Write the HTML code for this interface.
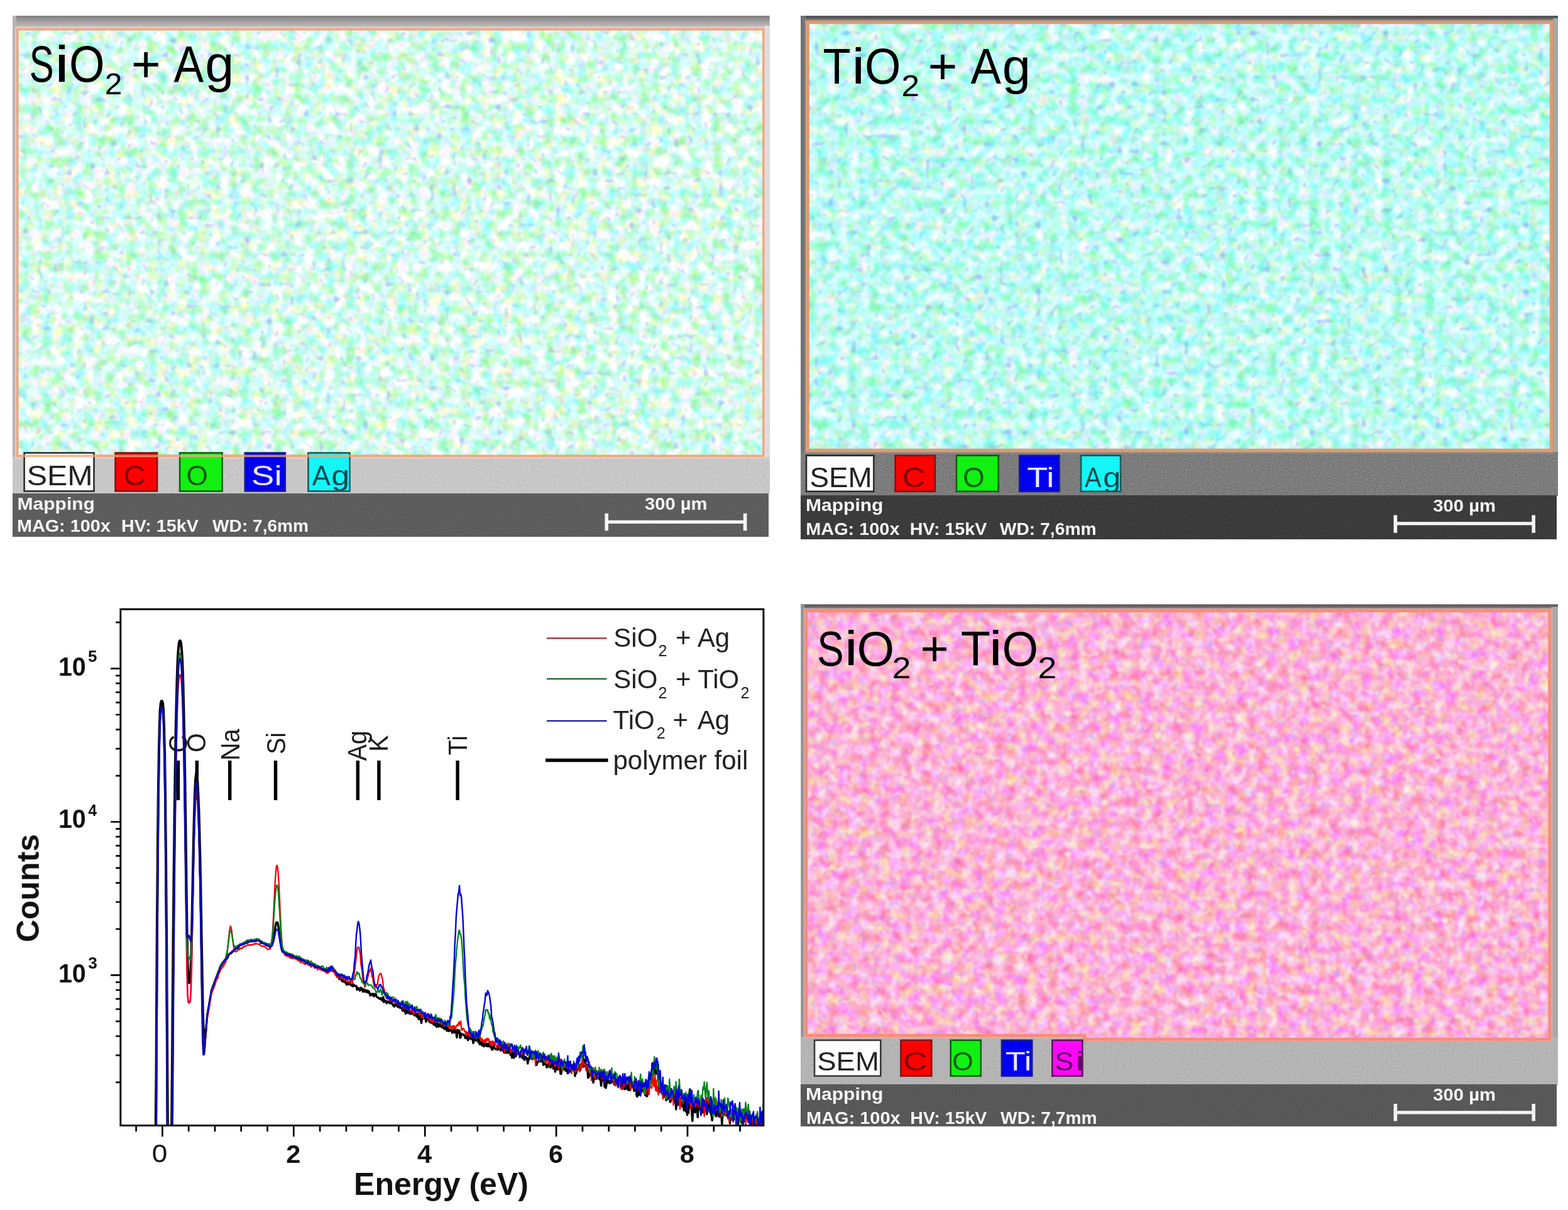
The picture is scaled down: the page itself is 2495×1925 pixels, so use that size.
<!DOCTYPE html>
<html lang="en"><head><meta charset="utf-8"><title>EDX mapping and spectra</title>
<style>html,body{margin:0;padding:0;background:#fff;}body{width:2495px;height:1925px;overflow:hidden;}svg text{font-family:"Liberation Sans",sans-serif;}</style></head>
<body>
<svg xmlns="http://www.w3.org/2000/svg" width="2495" height="1925" viewBox="0 0 2495 1925" font-family='"Liberation Sans", sans-serif' style="display:block">
<defs>
<filter id="map1" x="0" y="0" width="100%" height="100%" filterUnits="objectBoundingBox" color-interpolation-filters="sRGB"><feTurbulence type="fractalNoise" baseFrequency="0.06" numOctaves="2" seed="3"/><feColorMatrix type="matrix" values="0.85 0 0 0 0.4103  0 0.14 0 0 0.9182  0.38 0 0.7 0 0.3933  0 0 0 0 1" result="base"/><feTurbulence type="fractalNoise" baseFrequency="0.085" numOctaves="1" seed="34"/><feColorMatrix type="matrix" values="0 0 0 0 0.596  0 0 0 0 0.706  0 0 0 0 0.965  3.4 0 0 0 -2.108" result="s0"/><feComposite in="s0" in2="base" operator="over" result="c0"/><feTurbulence type="fractalNoise" baseFrequency="0.09" numOctaves="1" seed="35"/><feColorMatrix type="matrix" values="0 0 0 0 1.000  0 0 0 0 0.769  0 0 0 0 0.863  0 3.4 0 0 -2.244" result="s1"/><feComposite in="s1" in2="c0" operator="over" result="c1"/></filter>
<filter id="gr1" x="0" y="0" width="100%" height="100%" filterUnits="objectBoundingBox" color-interpolation-filters="sRGB"><feTurbulence type="fractalNoise" baseFrequency="0.4" numOctaves="2" seed="10"/><feColorMatrix type="matrix" values="0.13 0 0 0 0.7154  0.13 0 0 0 0.7154  0.13 0 0 0 0.7154  0 0 0 0 1" result="base"/></filter>
<filter id="dk1" x="0" y="0" width="100%" height="100%" filterUnits="objectBoundingBox" color-interpolation-filters="sRGB"><feTurbulence type="fractalNoise" baseFrequency="0.4" numOctaves="2" seed="14"/><feColorMatrix type="matrix" values="0.06 0 0 0 0.3347  0.06 0 0 0 0.3347  0.06 0 0 0 0.3347  0 0 0 0 1" result="base"/></filter>
<linearGradient id="tg1" x1="0" y1="0" x2="0" y2="1"><stop offset="0" stop-color="#808080"/><stop offset="1" stop-color="#cbc4c4"/></linearGradient>
<filter id="map2" x="0" y="0" width="100%" height="100%" filterUnits="objectBoundingBox" color-interpolation-filters="sRGB"><feTurbulence type="fractalNoise" baseFrequency="0.06" numOctaves="2" seed="11"/><feColorMatrix type="matrix" values="0.8 0 0 0 0.3451  0 0.16 0 0 0.9043  0.3 0 0.55 0 0.524  0 0 0 0 1" result="base"/><feTurbulence type="fractalNoise" baseFrequency="0.085" numOctaves="1" seed="42"/><feColorMatrix type="matrix" values="0 0 0 0 0.565  0 0 0 0 0.690  0 0 0 0 0.957  3.4 0 0 0 -2.091" result="s0"/><feComposite in="s0" in2="base" operator="over" result="c0"/><feTurbulence type="fractalNoise" baseFrequency="0.09" numOctaves="1" seed="43"/><feColorMatrix type="matrix" values="0 0 0 0 0.957  0 0 0 0 0.816  0 0 0 0 0.894  0 3.4 0 0 -2.312" result="s1"/><feComposite in="s1" in2="c0" operator="over" result="c1"/></filter>
<filter id="gr2" x="0" y="0" width="100%" height="100%" filterUnits="objectBoundingBox" color-interpolation-filters="sRGB"><feTurbulence type="fractalNoise" baseFrequency="0.4" numOctaves="2" seed="18"/><feColorMatrix type="matrix" values="0.2 0 0 0 0.3863  0.2 0 0 0 0.3863  0.2 0 0 0 0.3863  0 0 0 0 1" result="base"/></filter>
<filter id="dk2" x="0" y="0" width="100%" height="100%" filterUnits="objectBoundingBox" color-interpolation-filters="sRGB"><feTurbulence type="fractalNoise" baseFrequency="0.4" numOctaves="2" seed="22"/><feColorMatrix type="matrix" values="0.08 0 0 0 0.1914  0.08 0 0 0 0.1914  0.08 0 0 0 0.1914  0 0 0 0 1" result="base"/></filter>
<linearGradient id="tg2" x1="0" y1="0" x2="0" y2="1"><stop offset="0" stop-color="#4d4d4d"/><stop offset="1" stop-color="#6f6f6f"/></linearGradient>
<filter id="map3" x="0" y="0" width="100%" height="100%" filterUnits="objectBoundingBox" color-interpolation-filters="sRGB"><feTurbulence type="fractalNoise" baseFrequency="0.06" numOctaves="2" seed="23"/><feColorMatrix type="matrix" values="0.1 0 0 0 0.9382  0 0.62 0 0 0.3802  0 0 0.62 0 0.5253  0 0 0 0 1" result="base"/><feTurbulence type="fractalNoise" baseFrequency="0.09" numOctaves="1" seed="54"/><feColorMatrix type="matrix" values="0 0 0 0 0.753  0 0 0 0 0.659  0 0 0 0 0.980  3.2 0 0 0 -2.032" result="s0"/><feComposite in="s0" in2="base" operator="over" result="c0"/><feTurbulence type="fractalNoise" baseFrequency="0.085" numOctaves="1" seed="55"/><feColorMatrix type="matrix" values="0 0 0 0 1.000  0 0 0 0 0.949  0 0 0 0 0.863  0 3.2 0 0 -1.888" result="s1"/><feComposite in="s1" in2="c0" operator="over" result="c1"/></filter>
<filter id="gr3" x="0" y="0" width="100%" height="100%" filterUnits="objectBoundingBox" color-interpolation-filters="sRGB"><feTurbulence type="fractalNoise" baseFrequency="0.4" numOctaves="2" seed="30"/><feColorMatrix type="matrix" values="0.13 0 0 0 0.6409  0.13 0 0 0 0.6409  0.13 0 0 0 0.6409  0 0 0 0 1" result="base"/></filter>
<filter id="dk3" x="0" y="0" width="100%" height="100%" filterUnits="objectBoundingBox" color-interpolation-filters="sRGB"><feTurbulence type="fractalNoise" baseFrequency="0.4" numOctaves="2" seed="34"/><feColorMatrix type="matrix" values="0.06 0 0 0 0.3151  0.06 0 0 0 0.3151  0.06 0 0 0 0.3151  0 0 0 0 1" result="base"/></filter>
<linearGradient id="tg3" x1="0" y1="0" x2="0" y2="1"><stop offset="0" stop-color="#565656"/><stop offset="1" stop-color="#8a7a7a"/></linearGradient>
<filter id="soft" x="-2%" y="-2%" width="104%" height="104%" color-interpolation-filters="sRGB"><feGaussianBlur stdDeviation="0.75"/></filter>
</defs>
<rect x="0.00" y="0.00" width="2495.00" height="1925.00" fill="#ffffff" />
<g id="panel1" filter="url(#soft)">
<rect x="20.00" y="25.00" width="1204.50" height="760.00" fill="#c3c3c3" filter="url(#gr1)"/>
<rect x="20.00" y="25.00" width="1204.50" height="19.80" fill="url(#tg1)" />
<rect x="20.00" y="25.00" width="6.00" height="702.20" fill="#b6b2b4" />
<rect x="1216.60" y="40.80" width="7.90" height="686.40" fill="#dcdce2" />
<rect x="20.00" y="785.00" width="1202.50" height="68.20" fill="#5b5b5b" filter="url(#dk1)"/>
<rect x="24.80" y="43.60" width="1193.00" height="684.80" fill="none" stroke="#f3d8cc" stroke-width="2.4" opacity="0.6"/>
<clipPath id="mc1"><path d="M26 44.8H1216.6V727.2H26Z"/></clipPath>
<g clip-path="url(#mc1)"><rect x="26.00" y="44.80" width="1190.60" height="682.40" fill="#cbf7e4" filter="url(#map1)"/></g>
<path d="M27.8 46.599999999999994H1214.8V725.4000000000001H27.8Z" fill="none" stroke="#f0a582" stroke-width="3.6"/>
<rect x="38.60" y="720.50" width="110.90" height="60.90" fill="#ffffff" stroke="#2c2c2c" stroke-width="2.6"/>
<clipPath id="lc1SEM"><rect x="38.30" y="719.2" width="111.30" height="62.00"/></clipPath>
<g clip-path="url(#lc1SEM)"><text transform="translate(42.82 771.80) scale(1.1097 1)" font-size="43.6" fill="#222222" font-weight="normal" >SEM</text></g>
<rect x="183.50" y="720.50" width="66.60" height="60.90" fill="#ff0000" stroke="#7c1616" stroke-width="2.6"/>
<clipPath id="lc1C"><rect x="183.20" y="719.2" width="67.00" height="62.00"/></clipPath>
<g clip-path="url(#lc1C)"><text transform="translate(196.32 771.80) scale(1.1378 1)" font-size="43.6" fill="#7a0000" font-weight="normal" >C</text></g>
<rect x="286.10" y="720.50" width="67.50" height="60.90" fill="#12f012" stroke="#0d5f0d" stroke-width="2.6"/>
<clipPath id="lc1O"><rect x="285.80" y="719.2" width="67.90" height="62.00"/></clipPath>
<g clip-path="url(#lc1O)"><text transform="translate(296.51 771.80) scale(1.0145 1)" font-size="43.6" fill="#0b5a0b" font-weight="normal" >O</text></g>
<rect x="389.80" y="720.50" width="64.00" height="60.90" fill="#0000f2" stroke="#1c1c8c" stroke-width="2.6"/>
<clipPath id="lc1Si"><rect x="389.50" y="719.2" width="64.40" height="62.00"/></clipPath>
<g clip-path="url(#lc1Si)"><text transform="translate(399.83 771.80) scale(1.2578 1)" font-size="43.6" fill="#e8e8ff" font-weight="normal" >Si</text></g>
<rect x="490.50" y="720.50" width="66.00" height="60.90" fill="#14f6f6" stroke="#125c5c" stroke-width="2.6"/>
<clipPath id="lc1Ag"><rect x="490.20" y="719.2" width="66.40" height="62.00"/></clipPath>
<g clip-path="url(#lc1Ag)"><text fill="#0c4a55" font-weight="normal" ><tspan x="496.70" y="771.80" font-size="43.6" textLength="29.09" lengthAdjust="spacingAndGlyphs">A</tspan><tspan x="527.21" y="771.80" font-size="43.6" textLength="29.04" lengthAdjust="spacingAndGlyphs">g</tspan></text></g>
<path d="M26 725.40H559.8" stroke="#f0a582" stroke-width="3.6" fill="none" opacity="0.8"/>
<text transform="translate(27.55 810.60) scale(1.1120 1)" font-size="27" fill="#f6f6f6" font-weight="bold" >Mapping</text>
<text transform="translate(26.93 846.40) scale(1.0671 1)" font-size="27" fill="#f6f6f6" font-weight="bold" >MAG: 100x</text>
<text transform="translate(193.03 846.40) scale(1.0627 1)" font-size="27" fill="#f6f6f6" font-weight="bold" >HV: 15kV</text>
<text transform="translate(338.10 846.40) scale(1.0406 1)" font-size="27" fill="#f6f6f6" font-weight="bold" >WD: 7,6mm</text>
<text transform="translate(1026.07 810.60) scale(1.0777 1)" font-size="27" fill="#f6f6f6" font-weight="bold" >300 µm</text>
<path d="M965.2 816.8V844.2M1185.6 816.8V844.2" stroke="#f4f4f4" stroke-width="5.6" fill="none"/>
<path d="M965.2 830.4H1185.6" stroke="#f4f4f4" stroke-width="5.2" fill="none"/>
<text fill="#000" font-weight="normal" ><tspan x="46.68" y="130.30" font-size="81" textLength="38.86" lengthAdjust="spacingAndGlyphs">S</tspan><tspan x="86.98" y="130.30" font-size="81" textLength="22.96" lengthAdjust="spacingAndGlyphs">i</tspan><tspan x="109.93" y="130.30" font-size="81" textLength="56.55" lengthAdjust="spacingAndGlyphs">O</tspan><tspan x="166.72" y="149.60" font-size="49" textLength="27.63" lengthAdjust="spacingAndGlyphs">2</tspan> <tspan x="208.79" y="130.30" font-size="81" textLength="46.84" lengthAdjust="spacingAndGlyphs">+</tspan> <tspan x="276.60" y="130.30" font-size="81" textLength="47.64" lengthAdjust="spacingAndGlyphs">A</tspan><tspan x="326.28" y="130.30" font-size="81" textLength="46.10" lengthAdjust="spacingAndGlyphs">g</tspan></text>
</g>
<g id="panel2" filter="url(#soft)">
<rect x="1274.80" y="25.30" width="1204.00" height="763.30" fill="#7d7d7d" filter="url(#gr2)"/>
<rect x="1274.80" y="25.30" width="1204.00" height="7.70" fill="url(#tg2)" />
<rect x="1274.80" y="25.30" width="7.80" height="693.70" fill="#6e7474" />
<rect x="2471.00" y="29.00" width="7.80" height="690.00" fill="#a2aaaa" />
<rect x="1274.80" y="788.60" width="1201.70" height="69.40" fill="#3b3b3b" filter="url(#dk2)"/>
<rect x="1281.40" y="31.80" width="1190.80" height="688.40" fill="none" stroke="#b09888" stroke-width="2.4" opacity="0.6"/>
<clipPath id="mc2"><path d="M1282.6 33H2471V719H1282.6Z"/></clipPath>
<g clip-path="url(#mc2)"><rect x="1282.60" y="33.00" width="1188.40" height="686.00" fill="#aff4e6" filter="url(#map2)"/></g>
<path d="M1285.1999999999998 35.6H2468.4V716.4H1285.1999999999998Z" fill="none" stroke="#e09a72" stroke-width="5.2"/>
<rect x="1283.00" y="724.70" width="107.30" height="57.10" fill="#ffffff" stroke="#2c2c2c" stroke-width="2.6"/>
<clipPath id="lc2SEM"><rect x="1282.70" y="723.4" width="107.70" height="58.20"/></clipPath>
<g clip-path="url(#lc2SEM)"><text transform="translate(1288.54 774.90) scale(1.0501 1)" font-size="43.6" fill="#222222" font-weight="normal" >SEM</text></g>
<rect x="1424.50" y="724.70" width="63.30" height="57.10" fill="#ff0000" stroke="#7c1616" stroke-width="2.6"/>
<clipPath id="lc2C"><rect x="1424.20" y="723.4" width="63.70" height="58.20"/></clipPath>
<g clip-path="url(#lc2C)"><text transform="translate(1435.76 774.90) scale(1.1630 1)" font-size="43.6" fill="#7a0000" font-weight="normal" >C</text></g>
<rect x="1521.90" y="724.70" width="66.80" height="57.10" fill="#12f012" stroke="#0d5f0d" stroke-width="2.6"/>
<clipPath id="lc2O"><rect x="1521.60" y="723.4" width="67.20" height="58.20"/></clipPath>
<g clip-path="url(#lc2O)"><text transform="translate(1532.31 774.90) scale(1.0145 1)" font-size="43.6" fill="#0b5a0b" font-weight="normal" >O</text></g>
<rect x="1622.20" y="724.70" width="63.30" height="57.10" fill="#0000f2" stroke="#1c1c8c" stroke-width="2.6"/>
<clipPath id="lc2Ti"><rect x="1621.90" y="723.4" width="63.70" height="58.20"/></clipPath>
<g clip-path="url(#lc2Ti)"><text transform="translate(1634.22 774.90) scale(1.2437 1)" font-size="43.6" fill="#e8e8ff" font-weight="normal" >Ti</text></g>
<rect x="1720.10" y="724.70" width="63.00" height="57.10" fill="#14f6f6" stroke="#125c5c" stroke-width="2.6"/>
<clipPath id="lc2Ag"><rect x="1719.80" y="723.4" width="63.40" height="58.20"/></clipPath>
<g clip-path="url(#lc2Ag)"><text fill="#0c4a55" font-weight="normal" ><tspan x="1725.90" y="774.90" font-size="43.6" textLength="26.48" lengthAdjust="spacingAndGlyphs">A</tspan><tspan x="1755.38" y="774.90" font-size="43.6" textLength="28.06" lengthAdjust="spacingAndGlyphs">g</tspan></text></g>
<text transform="translate(1282.05 813.30) scale(1.1120 1)" font-size="27" fill="#f6f6f6" font-weight="bold" >Mapping</text>
<text transform="translate(1282.32 851.00) scale(1.0686 1)" font-size="27" fill="#f6f6f6" font-weight="bold" >MAG: 100x</text>
<text transform="translate(1447.63 851.00) scale(1.0627 1)" font-size="27" fill="#f6f6f6" font-weight="bold" >HV: 15kV</text>
<text transform="translate(1590.80 851.00) scale(1.0468 1)" font-size="27" fill="#f6f6f6" font-weight="bold" >WD: 7,6mm</text>
<text transform="translate(2280.17 814.00) scale(1.0844 1)" font-size="27" fill="#f6f6f6" font-weight="bold" >300 µm</text>
<path d="M2220.4 819.5V847.7M2440.2 819.5V847.7" stroke="#f4f4f4" stroke-width="5.6" fill="none"/>
<path d="M2220.4 832.9H2440.2" stroke="#f4f4f4" stroke-width="5.2" fill="none"/>
<text fill="#000" font-weight="normal" ><tspan x="1309.45" y="133.30" font-size="80" textLength="44.26" lengthAdjust="spacingAndGlyphs">T</tspan><tspan x="1355.36" y="133.30" font-size="80" textLength="20.98" lengthAdjust="spacingAndGlyphs">i</tspan><tspan x="1376.08" y="133.30" font-size="80" textLength="57.46" lengthAdjust="spacingAndGlyphs">O</tspan><tspan x="1434.44" y="152.70" font-size="49" textLength="28.48" lengthAdjust="spacingAndGlyphs">2</tspan> <tspan x="1476.59" y="133.30" font-size="80" textLength="46.84" lengthAdjust="spacingAndGlyphs">+</tspan> <tspan x="1544.40" y="133.30" font-size="80" textLength="48.44" lengthAdjust="spacingAndGlyphs">A</tspan><tspan x="1594.85" y="133.30" font-size="80" textLength="45.24" lengthAdjust="spacingAndGlyphs">g</tspan></text>
</g>
<g id="panel3" filter="url(#soft)">
<rect x="1274.80" y="961.70" width="1204.20" height="763.60" fill="#b6b6b6" filter="url(#gr3)"/>
<rect x="1274.80" y="961.70" width="1204.20" height="7.80" fill="url(#tg3)" />
<rect x="1274.80" y="961.70" width="5.60" height="688.10" fill="#949090" />
<rect x="2468.20" y="965.50" width="10.80" height="684.30" fill="#a8a8a8" />
<rect x="1274.80" y="1725.30" width="1201.70" height="66.40" fill="#585858" filter="url(#dk3)"/>
<rect x="1279.20" y="968.30" width="1190.20" height="682.70" fill="none" stroke="#e8b0a8" stroke-width="2.4" opacity="0.6"/>
<clipPath id="mc3"><path d="M1280.4 969.5H2468.2V1655.8H1728.6V1649.8H1280.4Z"/></clipPath>
<g clip-path="url(#mc3)"><rect x="1280.40" y="969.50" width="1187.80" height="686.30" fill="#fbaad6" filter="url(#map3)"/></g>
<path d="M1282.8000000000002 971.9H2465.7999999999997V1653.3999999999999H1726.1999999999998V1647.3999999999999H1282.8000000000002Z" fill="none" stroke="#f58e78" stroke-width="4.8"/>
<rect x="1296.00" y="1654.90" width="105.30" height="56.90" fill="#ffffff" stroke="#3a3a3a" stroke-width="2.6"/>
<clipPath id="lc3SEM"><rect x="1295.70" y="1653.6" width="105.70" height="58.00"/></clipPath>
<g clip-path="url(#lc3SEM)"><text transform="translate(1300.26 1702.80) scale(1.0897 1)" font-size="41.7" fill="#222222" font-weight="normal" >SEM</text></g>
<rect x="1433.40" y="1654.90" width="48.90" height="56.90" fill="#ff0000" stroke="#7c1616" stroke-width="2.6"/>
<clipPath id="lc3C"><rect x="1433.10" y="1653.6" width="49.30" height="58.00"/></clipPath>
<g clip-path="url(#lc3C)"><text transform="translate(1436.95 1702.80) scale(1.2727 1)" font-size="41.7" fill="#7a0000" font-weight="normal" >C</text></g>
<rect x="1512.70" y="1654.90" width="48.00" height="56.90" fill="#12f012" stroke="#0d5f0d" stroke-width="2.6"/>
<clipPath id="lc3O"><rect x="1512.40" y="1653.6" width="48.40" height="58.00"/></clipPath>
<g clip-path="url(#lc3O)"><text transform="translate(1515.26 1702.80) scale(1.0328 1)" font-size="41.7" fill="#0b5a0b" font-weight="normal" >O</text></g>
<rect x="1593.90" y="1654.90" width="48.30" height="56.90" fill="#0000f2" stroke="#1c1c8c" stroke-width="2.6"/>
<clipPath id="lc3Ti"><rect x="1593.60" y="1653.6" width="48.70" height="58.00"/></clipPath>
<g clip-path="url(#lc3Ti)"><text transform="translate(1599.85 1702.80) scale(1.2531 1)" font-size="41.7" fill="#e8e8ff" font-weight="normal" >Ti</text></g>
<rect x="1674.30" y="1654.90" width="48.10" height="56.90" fill="#fb08f6" stroke="#5e145e" stroke-width="2.6"/>
<clipPath id="lc3Si"><rect x="1674.00" y="1653.6" width="48.50" height="58.00"/></clipPath>
<g clip-path="url(#lc3Si)"><text fill="#600060" font-weight="normal" ><tspan x="1678.40" y="1702.80" font-size="41.7" textLength="29.70" lengthAdjust="spacingAndGlyphs">S</tspan><tspan x="1711.60" y="1702.80" font-size="41.7" textLength="13.33" lengthAdjust="spacingAndGlyphs">i</tspan></text></g>
<text transform="translate(1282.05 1749.80) scale(1.1120 1)" font-size="27" fill="#f6f6f6" font-weight="bold" >Mapping</text>
<text transform="translate(1283.12 1788.20) scale(1.0715 1)" font-size="27" fill="#f6f6f6" font-weight="bold" >MAG: 100x</text>
<text transform="translate(1448.14 1788.20) scale(1.0583 1)" font-size="27" fill="#f6f6f6" font-weight="bold" >HV: 15kV</text>
<text transform="translate(1592.00 1788.20) scale(1.0454 1)" font-size="27" fill="#f6f6f6" font-weight="bold" >WD: 7,7mm</text>
<text transform="translate(2280.17 1750.50) scale(1.0844 1)" font-size="27" fill="#f6f6f6" font-weight="bold" >300 µm</text>
<path d="M2220.4 1756V1783.5M2440.2 1756V1783.5" stroke="#f4f4f4" stroke-width="5.6" fill="none"/>
<path d="M2220.4 1769.8H2440.2" stroke="#f4f4f4" stroke-width="5.2" fill="none"/>
<text fill="#000" font-weight="normal" ><tspan x="1300.24" y="1059.20" font-size="77.5" textLength="42.46" lengthAdjust="spacingAndGlyphs">S</tspan><tspan x="1343.86" y="1059.20" font-size="77.5" textLength="20.98" lengthAdjust="spacingAndGlyphs">i</tspan><tspan x="1363.55" y="1059.20" font-size="77.5" textLength="59.62" lengthAdjust="spacingAndGlyphs">O</tspan><tspan x="1419.61" y="1078.60" font-size="49" textLength="29.95" lengthAdjust="spacingAndGlyphs">2</tspan> <tspan x="1464.42" y="1059.20" font-size="77.5" textLength="45.27" lengthAdjust="spacingAndGlyphs">+</tspan> <tspan x="1528.75" y="1059.20" font-size="77.5" textLength="47.26" lengthAdjust="spacingAndGlyphs">T</tspan><tspan x="1573.86" y="1059.20" font-size="77.5" textLength="20.98" lengthAdjust="spacingAndGlyphs">i</tspan><tspan x="1594.57" y="1059.20" font-size="77.5" textLength="57.57" lengthAdjust="spacingAndGlyphs">O</tspan><tspan x="1651.52" y="1078.60" font-size="49" textLength="29.83" lengthAdjust="spacingAndGlyphs">2</tspan></text>
</g>
<g id="chart" filter="url(#soft)">
<rect x="191.80" y="969.20" width="1023.10" height="821.40" fill="#ffffff" />
<path d="M283.5 1210V1273" stroke="#000" stroke-width="5.4" fill="none"/>
<text transform="translate(298.0 1197.5) rotate(-90) scale(0.93 1)" font-size="42.5" fill="#1c1c1c">C</text>
<path d="M313.3 1210V1273" stroke="#000" stroke-width="5.4" fill="none"/>
<text transform="translate(327.0 1197.0) rotate(-90) scale(0.93 1)" font-size="42.5" fill="#1c1c1c">O</text>
<path d="M365.7 1210V1273" stroke="#000" stroke-width="5.4" fill="none"/>
<text transform="translate(381.0 1210.0) rotate(-90) scale(0.93 1)" font-size="42.5" fill="#1c1c1c">Na</text>
<path d="M438.5 1210V1273" stroke="#000" stroke-width="5.4" fill="none"/>
<text transform="translate(453.8 1200.0) rotate(-90) scale(0.93 1)" font-size="42.5" fill="#1c1c1c">Si</text>
<path d="M569.3 1210V1273" stroke="#000" stroke-width="5.4" fill="none"/>
<text transform="translate(583.0 1210.5) rotate(-90) scale(0.93 1)" font-size="42.5" fill="#1c1c1c">Ag</text>
<path d="M602.9 1210V1273" stroke="#000" stroke-width="5.4" fill="none"/>
<text transform="translate(617.3 1196.0) rotate(-90) scale(0.93 1)" font-size="42.5" fill="#1c1c1c">K</text>
<path d="M728.1 1210V1273" stroke="#000" stroke-width="5.4" fill="none"/>
<text transform="translate(743.4 1201.5) rotate(-90) scale(0.93 1)" font-size="42.5" fill="#1c1c1c">Ti</text>
<clipPath id="plotclip"><rect x="191.8" y="969.2" width="1023.1000000000001" height="821.3999999999999"/></clipPath>
<g clip-path="url(#plotclip)" fill="none" stroke-linejoin="round" stroke-linecap="butt">
<path d="M245.3,1830.6 246.4,1830.6 247.4,1830.6 248.5,1704.6 249.5,1520.9 250.6,1379.9 251.6,1276.1 252.7,1203.7 253.7,1157.1 254.7,1130.6 255.8,1118.6 256.8,1115.2 257.9,1115.2 258.9,1118.0 260.0,1129.1 261.0,1154.2 262.1,1198.8 263.1,1268.8 264.1,1369.7 265.2,1507.3 266.2,1687.1 267.3,1830.6 268.3,1830.6 269.4,1830.6 270.4,1830.6 271.5,1830.6 272.5,1830.6 273.5,1750.3 274.6,1610.7 275.6,1488.5 276.7,1382.8 277.7,1292.9 278.8,1217.8 279.8,1156.7 280.9,1108.5 281.9,1072.2 282.9,1046.6 284.0,1030.4 285.0,1021.9 286.1,1019.3 287.1,1019.8 288.2,1024.3 289.2,1035.6 290.3,1055.2 291.3,1084.7 292.3,1125.2 293.4,1177.7 294.4,1242.7 295.5,1319.5 296.5,1403.9 297.6,1483.5 298.6,1537.2 299.7,1559.0 300.7,1563.5 301.7,1563.2 302.8,1556.8 303.8,1536.1 304.9,1495.9 305.9,1442.0 307.0,1385.7 308.0,1334.5 309.1,1292.3 310.1,1260.6 311.1,1240.1 312.2,1231.1 313.2,1232.8 314.3,1243.1 315.3,1262.0 316.4,1289.4 317.4,1325.3 318.5,1369.5 319.5,1421.6 320.5,1480.4 321.6,1542.9 322.6,1601.9 323.7,1642.0 324.7,1659.6 325.8,1657.6 326.8,1645.7 327.9,1635.6" stroke="#000000" stroke-width="4.0"/>
<path d="M327.9,1635.6 328.9,1624.9 329.9,1614.3 331.0,1607.3 332.0,1602.7 333.1,1596.0 334.1,1589.4 335.2,1583.8 336.2,1577.5 337.3,1573.4 338.3,1570.5 339.3,1567.9 340.4,1565.5 341.4,1563.0 342.5,1560.3 343.5,1557.3 344.6,1554.9 345.6,1551.6 346.7,1548.1 347.7,1545.4 348.7,1544.1 349.8,1539.9 350.8,1537.7 351.9,1536.2 352.9,1535.3 354.0,1532.1 355.0,1531.3 356.1,1530.0 357.1,1528.7 358.1,1527.7 359.2,1526.7 360.2,1525.2 361.3,1525.1 362.3,1523.0 363.4,1519.7 364.4,1518.2 365.5,1517.6 366.5,1516.4 367.6,1516.4 368.6,1515.3 369.6,1514.5 370.7,1513.1 371.7,1512.6 372.8,1511.7 373.8,1510.4 374.9,1510.1 375.9,1508.0 377.0,1508.6 378.0,1507.5 379.0,1508.2 380.1,1505.4 381.1,1503.7 382.2,1503.8 383.2,1503.6 384.3,1502.7 385.3,1501.9 386.4,1502.0 387.4,1500.8 388.4,1502.0 389.5,1499.7 390.5,1500.6 391.6,1500.4 392.6,1499.5 393.7,1499.7 394.7,1498.5 395.8,1498.5 396.8,1497.2 397.8,1496.8 398.9,1497.1 399.9,1497.4 401.0,1497.9 402.0,1496.2 403.1,1496.5 404.1,1496.2 405.2,1497.2 406.2,1496.1 407.2,1497.2 408.3,1496.0 409.3,1495.5 410.4,1495.6 411.4,1495.4 412.5,1495.3 413.5,1497.3 414.6,1497.7 415.6,1500.3 416.6,1499.6 417.7,1500.5 418.7,1500.4 419.8,1500.7 420.8,1500.3 421.9,1501.0 422.9,1503.5 424.0,1502.6 425.0,1503.1 426.0,1504.6 427.1,1504.3 428.1,1504.8 429.2,1506.8 430.2,1505.6 431.3,1504.7 432.3,1503.7 433.4,1501.3 434.4,1498.5 435.4,1493.3 436.5,1485.6 437.5,1478.7 438.6,1471.2 439.6,1467.7 440.7,1467.1 441.7,1467.8 442.8,1473.4 443.8,1480.1 444.8,1488.4 445.9,1496.9 446.9,1502.5 448.0,1509.1 449.0,1512.5 450.1,1514.5 451.1,1514.2 452.2,1514.3 453.2,1516.1 454.2,1517.2 455.3,1517.5 456.3,1517.7 457.4,1518.2 458.4,1518.3 459.5,1519.5 460.5,1518.0 461.6,1520.0 462.6,1520.4 463.6,1519.8 464.7,1524.1 465.7,1521.3 466.8,1521.6 467.8,1520.6 468.9,1522.4 469.9,1522.8 471.0,1524.2 472.0,1523.1 473.0,1525.1 474.1,1523.2 475.1,1525.0 476.2,1523.7 477.2,1525.9 478.3,1527.2 479.3,1525.3 480.4,1528.1 481.4,1528.3 482.4,1526.7 483.5,1527.8 484.5,1528.7 485.6,1530.3 486.6,1531.7 487.7,1530.0 488.7,1530.1 489.8,1531.2 490.8,1529.1 491.8,1533.0 492.9,1532.8 493.9,1533.0 495.0,1535.3 496.0,1533.9 497.1,1533.8 498.1,1536.3 499.2,1535.0 500.2,1536.0 501.2,1536.0 502.3,1536.8 503.3,1537.5 504.4,1538.1 505.4,1536.7 506.5,1540.1 507.5,1538.5 508.6,1538.9 509.6,1540.8 510.6,1539.7 511.7,1541.3 512.7,1542.5 513.8,1542.7 514.8,1541.4 515.9,1543.7 516.9,1542.6 518.0,1542.2 519.0,1542.6 520.0,1544.4 521.1,1543.3 522.1,1545.9 523.2,1545.0 524.2,1544.1 525.3,1543.9 526.3,1542.6 527.4,1539.5 528.4,1543.8 529.4,1538.9 530.5,1542.7 531.5,1542.0 532.6,1546.4 533.6,1548.2 534.7,1548.5 535.7,1552.5 536.8,1553.0 537.8,1553.8 538.8,1553.1 539.9,1557.5 540.9,1555.9 542.0,1558.1 543.0,1555.6 544.1,1560.8 545.1,1559.0 546.2,1561.8 547.2,1560.5 548.2,1561.8 549.3,1563.0 550.3,1562.6 551.4,1566.5 552.4,1563.3 553.5,1563.6 554.5,1566.2 555.6,1565.2 556.6,1563.9 557.6,1565.4 558.7,1567.5 559.7,1566.8 560.8,1569.0 561.8,1565.7 562.9,1568.7 563.9,1567.4 565.0,1568.5 566.0,1568.6 567.0,1568.7 568.1,1574.7 569.1,1571.4 570.2,1573.0 571.2,1572.8 572.3,1576.0 573.3,1572.2 574.4,1571.4 575.4,1575.2 576.5,1572.9 577.5,1577.7 578.5,1574.0 579.6,1575.6 580.6,1577.8 581.7,1575.1 582.7,1577.1 583.8,1578.7 584.8,1575.9 585.9,1578.9 586.9,1577.0 587.9,1579.7 589.0,1583.6 590.0,1583.7 591.1,1581.2 592.1,1581.7 593.2,1581.1 594.2,1584.6 595.3,1584.9 596.3,1581.3 597.3,1582.7 598.4,1582.5 599.4,1585.9 600.5,1586.5 601.5,1586.8 602.6,1588.2 603.6,1588.7 604.7,1588.0 605.7,1589.6 606.7,1588.0 607.8,1591.0 608.8,1592.1 609.9,1586.1 610.9,1594.3 612.0,1591.2 613.0,1593.4 614.1,1592.5 615.1,1596.1 616.1,1593.3 617.2,1594.7 618.2,1593.2 619.3,1594.8 620.3,1596.2 621.4,1593.7 622.4,1595.9 623.5,1595.6 624.5,1597.4 625.5,1599.8 626.6,1598.5 627.6,1601.5 628.7,1597.7 629.7,1598.9 630.8,1599.8 631.8,1598.7 632.9,1602.0 633.9,1600.1 634.9,1600.4 636.0,1603.2 637.0,1601.4 638.1,1603.5 639.1,1603.8 640.2,1607.0 641.2,1608.3 642.3,1606.7 643.3,1604.4 644.3,1608.4 645.4,1612.6 646.4,1606.6 647.5,1607.4 648.5,1611.4 649.6,1608.7 650.6,1608.5 651.7,1612.5 652.7,1608.2 653.7,1613.1 654.8,1609.3 655.8,1613.0 656.9,1612.0 657.9,1610.7 659.0,1615.1 660.0,1610.2 661.1,1615.5 662.1,1614.1 663.1,1617.6 664.2,1612.6 665.2,1618.3 666.3,1621.5 667.3,1615.5 668.4,1617.5 669.4,1620.3 670.5,1627.5 671.5,1619.5 672.5,1617.7 673.6,1620.4 674.6,1619.9 675.7,1619.7 676.7,1617.9 677.8,1625.6 678.8,1618.2 679.9,1622.2 680.9,1618.3 681.9,1617.9 683.0,1625.5 684.0,1620.9 685.1,1626.9 686.1,1625.6 687.2,1623.4 688.2,1628.3 689.3,1623.2 690.3,1629.4 691.3,1630.9 692.4,1624.9 693.4,1629.3 694.5,1633.5 695.5,1630.6 696.6,1626.9 697.6,1633.5 698.7,1631.4 699.7,1632.3 700.7,1628.5 701.8,1633.6 702.8,1633.8 703.9,1630.3 704.9,1635.2 706.0,1633.3 707.0,1636.9 708.1,1637.3 709.1,1633.1 710.1,1632.2 711.2,1640.0 712.2,1638.5 713.3,1635.4 714.3,1640.6 715.4,1639.6 716.4,1639.6 717.5,1637.4 718.5,1637.5 719.5,1643.3 720.6,1639.8 721.6,1639.7 722.7,1642.7 723.7,1638.1 724.8,1641.4 725.8,1642.1 726.9,1650.6 727.9,1638.2 728.9,1643.4 730.0,1641.8 731.0,1639.4 732.1,1651.0 733.1,1650.0 734.2,1644.3 735.2,1645.1 736.3,1645.8 737.3,1646.4 738.3,1646.2 739.4,1648.5 740.4,1651.5 741.5,1649.7 742.5,1651.9 743.6,1645.1 744.6,1654.9 745.7,1648.2 746.7,1647.7 747.7,1648.4 748.8,1653.2 749.8,1651.6 750.9,1648.5 751.9,1652.3 753.0,1659.6 754.0,1654.1 755.1,1652.7 756.1,1651.6 757.1,1655.7 758.2,1651.5 759.2,1654.8 760.3,1651.7 761.3,1658.6 762.4,1653.5 763.4,1661.5 764.5,1660.2 765.5,1658.1 766.5,1662.2 767.6,1663.2 768.6,1656.5 769.7,1664.8 770.7,1662.1 771.8,1663.4 772.8,1659.4 773.9,1660.4 774.9,1664.6 775.9,1660.2 777.0,1661.4 778.0,1664.8 779.1,1658.3 780.1,1657.6 781.2,1666.8 782.2,1666.8 783.3,1670.2 784.3,1666.7 785.4,1661.5 786.4,1667.8 787.4,1667.8 788.5,1669.1 789.5,1668.7 790.6,1669.1 791.6,1670.1 792.7,1664.5 793.7,1669.2 794.8,1664.0 795.8,1666.0 796.8,1671.5 797.9,1666.3 798.9,1664.2 800.0,1667.1 801.0,1672.4 802.1,1674.3 803.1,1672.6 804.2,1674.9 805.2,1663.4 806.2,1671.3 807.3,1675.1 808.3,1671.6 809.4,1674.8 810.4,1670.1 811.5,1673.3 812.5,1678.6 813.6,1670.9 814.6,1682.8 815.6,1675.3 816.7,1674.3 817.7,1683.1 818.8,1674.7 819.8,1679.4 820.9,1680.4 821.9,1674.3 823.0,1675.9 824.0,1676.9 825.0,1676.8 826.1,1675.0 827.1,1681.8 828.2,1679.6 829.2,1674.7 830.3,1677.8 831.3,1683.5 832.4,1675.6 833.4,1678.8 834.4,1686.4 835.5,1684.8 836.5,1681.5 837.6,1683.6 838.6,1683.5 839.7,1692.0 840.7,1687.1 841.8,1685.0 842.8,1680.0 843.8,1681.6 844.9,1683.8 845.9,1681.0 847.0,1684.6 848.0,1684.8 849.1,1683.8 850.1,1683.6 851.2,1680.5 852.2,1681.3 853.2,1694.6 854.3,1692.8 855.3,1688.8 856.4,1689.6 857.4,1688.0 858.5,1684.1 859.5,1688.8 860.6,1681.4 861.6,1688.5 862.6,1684.4 863.7,1688.2 864.7,1694.2 865.8,1689.0 866.8,1689.4 867.9,1693.3 868.9,1692.7 870.0,1698.2 871.0,1693.8 872.0,1697.1 873.1,1691.3 874.1,1690.2 875.2,1697.0 876.2,1698.4 877.3,1688.5 878.3,1687.9 879.4,1692.0 880.4,1700.1 881.4,1691.8 882.5,1697.7 883.5,1705.1 884.6,1698.5 885.6,1697.2 886.7,1698.4 887.7,1701.5 888.8,1689.8 889.8,1693.9 890.8,1698.0 891.9,1708.2 892.9,1708.5 894.0,1699.0 895.0,1702.0 896.1,1694.4 897.1,1697.7 898.2,1701.6 899.2,1698.6 900.2,1703.7 901.3,1700.6 902.3,1703.6 903.4,1707.5 904.4,1701.7 905.5,1705.3 906.5,1704.9 907.6,1701.9 908.6,1704.7 909.6,1702.3 910.7,1700.8 911.7,1701.9 912.8,1701.4 913.8,1697.2 914.9,1711.9 915.9,1694.2 917.0,1707.6 918.0,1700.3 919.0,1695.5 920.1,1701.0 921.1,1693.4 922.2,1694.8 923.2,1702.7 924.3,1697.0 925.3,1692.0 926.4,1692.8 927.4,1678.8 928.4,1697.1 929.5,1689.7 930.5,1686.3 931.6,1693.0 932.6,1700.4 933.7,1693.7 934.7,1700.2 935.8,1714.8 936.8,1713.0 937.8,1710.7 938.9,1707.7 939.9,1701.5 941.0,1706.8 942.0,1712.8 943.1,1714.3 944.1,1722.2 945.2,1712.1 946.2,1713.7 947.2,1710.9 948.3,1705.8 949.3,1716.2 950.4,1708.7 951.4,1711.9 952.5,1708.4 953.5,1716.8 954.6,1711.6 955.6,1718.4 956.6,1727.2 957.7,1716.7 958.7,1718.2 959.8,1713.0 960.8,1708.4 961.9,1728.8 962.9,1705.6 964.0,1730.9 965.0,1725.0 966.0,1718.3 967.1,1722.3 968.1,1718.9 969.2,1722.3 970.2,1723.4 971.3,1720.4 972.3,1718.5 973.4,1720.1 974.4,1721.1 975.4,1720.9 976.5,1722.3 977.5,1725.5 978.6,1722.3 979.6,1722.6 980.7,1720.5 981.7,1723.0 982.8,1723.7 983.8,1724.0 984.8,1726.0 985.9,1721.3 986.9,1715.8 988.0,1730.8 989.0,1729.1 990.1,1730.5 991.1,1730.6 992.2,1718.8 993.2,1731.8 994.3,1732.9 995.3,1731.5 996.3,1721.0 997.4,1727.5 998.4,1732.8 999.5,1734.0 1000.5,1725.5 1001.6,1731.1 1002.6,1734.6 1003.7,1719.6 1004.7,1723.1 1005.7,1726.0 1006.8,1723.5 1007.8,1728.5 1008.9,1735.5 1009.9,1729.2 1011.0,1726.8 1012.0,1729.4 1013.1,1743.4 1014.1,1744.5 1015.1,1727.4 1016.2,1742.0 1017.2,1741.9 1018.3,1731.9 1019.3,1733.9 1020.4,1737.7 1021.4,1727.0 1022.5,1732.5 1023.5,1735.5 1024.5,1728.0 1025.6,1732.6 1026.6,1742.0 1027.7,1721.4 1028.7,1744.1 1029.8,1744.0 1030.8,1730.2 1031.9,1729.8 1032.9,1726.4 1033.9,1710.1 1035.0,1720.1 1036.0,1711.1 1037.1,1709.7 1038.1,1691.1 1039.2,1710.5 1040.2,1699.9 1041.3,1702.5 1042.3,1697.6 1043.3,1708.8 1044.4,1697.7 1045.4,1700.7 1046.5,1700.7 1047.5,1715.2 1048.6,1725.2 1049.6,1735.0 1050.7,1733.2 1051.7,1733.9 1052.7,1735.9 1053.8,1733.2 1054.8,1733.0 1055.9,1745.4 1056.9,1742.4 1058.0,1738.7 1059.0,1743.1 1060.1,1750.5 1061.1,1727.7 1062.1,1748.9 1063.2,1744.9 1064.2,1745.0 1065.3,1737.1 1066.3,1753.2 1067.4,1751.8 1068.4,1745.6 1069.5,1735.9 1070.5,1745.0 1071.5,1749.2 1072.6,1743.8 1073.6,1753.5 1074.7,1738.4 1075.7,1764.8 1076.8,1742.0 1077.8,1743.1 1078.9,1757.7 1079.9,1751.1 1080.9,1752.0 1082.0,1747.3 1083.0,1758.3 1084.1,1753.1 1085.1,1759.2 1086.2,1760.8 1087.2,1746.7 1088.3,1766.6 1089.3,1755.4 1090.3,1746.8 1091.4,1768.3 1092.4,1746.8 1093.5,1773.8 1094.5,1748.0 1095.6,1770.6 1096.6,1744.5 1097.7,1733.0 1098.7,1762.5 1099.7,1755.4 1100.8,1768.9 1101.8,1783.3 1102.9,1760.6 1103.9,1756.9 1105.0,1756.0 1106.0,1769.8 1107.1,1756.2 1108.1,1751.5 1109.1,1765.0 1110.2,1777.4 1111.2,1755.8 1112.3,1764.5 1113.3,1764.9 1114.4,1761.8 1115.4,1763.0 1116.5,1768.2 1117.5,1770.2 1118.5,1753.6 1119.6,1750.8 1120.6,1768.9 1121.7,1751.6 1122.7,1764.6 1123.8,1762.6 1124.8,1772.5 1125.9,1762.4 1126.9,1765.0 1127.9,1753.3 1129.0,1766.3 1130.0,1752.9 1131.1,1771.3 1132.1,1774.5 1133.2,1782.6 1134.2,1771.5 1135.3,1766.4 1136.3,1759.9 1137.3,1763.9 1138.4,1774.4 1139.4,1775.8 1140.5,1775.5 1141.5,1766.3 1142.6,1761.4 1143.6,1753.7 1144.7,1776.7 1145.7,1768.3 1146.7,1765.6 1147.8,1773.4 1148.8,1789.2 1149.9,1767.9 1150.9,1767.7 1152.0,1763.5 1153.0,1773.6 1154.1,1759.1 1155.1,1761.9 1156.1,1775.1 1157.2,1766.2 1158.2,1773.7 1159.3,1777.9 1160.3,1772.6 1161.4,1787.1 1162.4,1769.3 1163.5,1766.1 1164.5,1775.3 1165.5,1771.6 1166.6,1778.6 1167.6,1781.0 1168.7,1773.4 1169.7,1764.4 1170.8,1764.7 1171.8,1790.1 1172.9,1774.0 1173.9,1798.0 1174.9,1782.9 1176.0,1775.4 1177.0,1773.4 1178.1,1767.8 1179.1,1779.4 1180.2,1786.8 1181.2,1786.7 1182.3,1786.8 1183.3,1781.8 1184.3,1772.8 1185.4,1783.4 1186.4,1773.2 1187.5,1778.6 1188.5,1774.8 1189.6,1772.4 1190.6,1774.5 1191.7,1775.7 1192.7,1783.8 1193.7,1788.5 1194.8,1786.9 1195.8,1774.8 1196.9,1779.1 1197.9,1798.2 1199.0,1790.8 1200.0,1790.1 1201.1,1788.4 1202.1,1793.3 1203.2,1779.9 1204.2,1775.4 1205.2,1794.2 1206.3,1779.1 1207.3,1788.2 1208.4,1801.1 1209.4,1784.8 1210.5,1778.5 1211.5,1788.9 1212.6,1774.0 1213.6,1780.9 1214.6,1784.5 1215.7,1794.4" stroke="#000000" stroke-width="3.4"/>
<path d="M245.3,1830.6 246.4,1830.6 247.4,1830.6 248.5,1769.5 249.5,1569.2 250.6,1415.6 251.6,1302.4 252.7,1223.5 253.7,1172.7 254.7,1143.9 255.8,1130.7 256.8,1127.1 257.9,1127.0 258.9,1130.1 260.0,1142.2 261.0,1169.5 262.1,1218.2 263.1,1294.5 264.1,1404.4 265.2,1554.4 266.2,1750.4 267.3,1830.6 268.3,1830.6 269.4,1830.6 270.4,1830.6 271.5,1830.6 272.5,1830.6 273.5,1830.6 274.6,1709.0 275.6,1577.7 276.7,1464.2 277.7,1367.6 278.8,1286.9 279.8,1221.3 280.9,1169.5 281.9,1130.5 282.9,1103.0 284.0,1085.5 285.0,1076.5 286.1,1073.7 287.1,1074.2 288.2,1079.1 289.2,1091.1 290.3,1112.2 291.3,1143.8 292.3,1187.3 293.4,1243.5 294.4,1312.7 295.5,1393.3 296.5,1477.8 297.6,1548.0 298.6,1584.7 299.7,1594.8 300.7,1595.4 301.7,1595.4 302.8,1591.6 303.8,1574.9 304.9,1537.4 305.9,1483.2 307.0,1424.6 308.0,1370.7 309.1,1326.1 310.1,1292.5 311.1,1270.8 312.2,1261.2 313.2,1263.0 314.3,1274.0 315.3,1293.9 316.4,1322.9 317.4,1360.9 318.5,1407.6 319.5,1462.3 320.5,1523.5 321.6,1586.2 322.6,1640.3 323.7,1669.9 324.7,1676.0 325.8,1667.2 326.8,1652.4 327.9,1640.6" stroke="#e8002a" stroke-width="2.7"/>
<path d="M327.9,1640.6 328.9,1630.9 329.9,1619.3 331.0,1614.1 332.0,1607.7 333.1,1602.4 334.1,1595.4 335.2,1589.3 336.2,1582.5 337.3,1578.4 338.3,1576.9 339.3,1573.4 340.4,1571.0 341.4,1568.1 342.5,1565.7 343.5,1561.5 344.6,1558.8 345.6,1557.5 346.7,1555.8 347.7,1550.6 348.7,1548.6 349.8,1546.5 350.8,1543.3 351.9,1541.5 352.9,1540.0 354.0,1539.4 355.0,1537.4 356.1,1536.0 357.1,1533.5 358.1,1532.7 359.2,1530.5 360.2,1525.4 361.3,1518.1 362.3,1508.3 363.4,1498.4 364.4,1487.6 365.5,1478.8 366.5,1473.4 367.6,1475.4 368.6,1480.5 369.6,1488.8 370.7,1498.4 371.7,1505.0 372.8,1510.5 373.8,1514.1 374.9,1513.5 375.9,1513.8 377.0,1513.7 378.0,1512.1 379.0,1510.6 380.1,1511.0 381.1,1510.7 382.2,1508.4 383.2,1508.9 384.3,1508.3 385.3,1509.0 386.4,1506.5 387.4,1506.9 388.4,1505.6 389.5,1505.4 390.5,1505.6 391.6,1504.8 392.6,1504.5 393.7,1503.6 394.7,1502.5 395.8,1503.9 396.8,1504.2 397.8,1503.0 398.9,1502.6 399.9,1503.7 401.0,1502.9 402.0,1502.6 403.1,1503.0 404.1,1501.5 405.2,1501.4 406.2,1501.9 407.2,1500.9 408.3,1501.6 409.3,1501.6 410.4,1502.0 411.4,1502.4 412.5,1501.5 413.5,1503.0 414.6,1503.9 415.6,1504.9 416.6,1505.4 417.7,1505.0 418.7,1505.6 419.8,1505.3 420.8,1506.4 421.9,1506.7 422.9,1506.8 424.0,1508.1 425.0,1509.6 426.0,1510.6 427.1,1510.0 428.1,1510.0 429.2,1510.1 430.2,1509.4 431.3,1506.1 432.3,1499.7 433.4,1488.0 434.4,1471.3 435.4,1452.4 436.5,1429.0 437.5,1406.7 438.6,1391.5 439.6,1379.5 440.7,1376.6 441.7,1379.6 442.8,1390.8 443.8,1406.8 444.8,1428.3 445.9,1452.2 446.9,1474.6 448.0,1491.1 449.0,1506.7 450.1,1509.3 451.1,1514.1 452.2,1517.2 453.2,1519.4 454.2,1519.6 455.3,1519.6 456.3,1521.4 457.4,1520.9 458.4,1521.2 459.5,1522.3 460.5,1521.3 461.6,1524.3 462.6,1523.8 463.6,1523.0 464.7,1523.4 465.7,1523.9 466.8,1524.8 467.8,1524.8 468.9,1524.0 469.9,1524.3 471.0,1526.9 472.0,1524.9 473.0,1525.9 474.1,1528.4 475.1,1526.2 476.2,1528.7 477.2,1529.7 478.3,1531.6 479.3,1531.0 480.4,1530.3 481.4,1529.4 482.4,1532.5 483.5,1532.9 484.5,1533.7 485.6,1534.2 486.6,1533.0 487.7,1533.0 488.7,1532.6 489.8,1534.8 490.8,1535.8 491.8,1534.5 492.9,1535.9 493.9,1537.2 495.0,1538.3 496.0,1536.1 497.1,1537.1 498.1,1536.7 499.2,1537.1 500.2,1539.7 501.2,1540.2 502.3,1539.0 503.3,1539.6 504.4,1539.6 505.4,1543.1 506.5,1540.5 507.5,1541.2 508.6,1541.0 509.6,1543.3 510.6,1542.3 511.7,1541.0 512.7,1544.1 513.8,1544.4 514.8,1544.4 515.9,1545.2 516.9,1545.8 518.0,1546.4 519.0,1547.9 520.0,1547.6 521.1,1548.3 522.1,1547.8 523.2,1547.3 524.2,1545.7 525.3,1545.0 526.3,1542.0 527.4,1544.6 528.4,1545.8 529.4,1543.4 530.5,1543.5 531.5,1547.1 532.6,1548.0 533.6,1551.4 534.7,1548.9 535.7,1554.6 536.8,1555.0 537.8,1554.1 538.8,1550.7 539.9,1553.8 540.9,1557.0 542.0,1555.3 543.0,1554.1 544.1,1556.1 545.1,1556.3 546.2,1554.7 547.2,1556.9 548.2,1558.9 549.3,1559.4 550.3,1559.9 551.4,1559.3 552.4,1558.1 553.5,1559.5 554.5,1563.3 555.6,1561.5 556.6,1562.1 557.6,1559.4 558.7,1563.3 559.7,1561.5 560.8,1563.0 561.8,1557.4 562.9,1554.0 563.9,1547.6 565.0,1538.7 566.0,1529.6 567.0,1520.7 568.1,1512.0 569.1,1506.9 570.2,1507.7 571.2,1507.1 572.3,1512.6 573.3,1518.9 574.4,1534.1 575.4,1540.1 576.5,1547.3 577.5,1559.2 578.5,1564.9 579.6,1565.4 580.6,1570.6 581.7,1564.1 582.7,1561.9 583.8,1561.0 584.8,1555.9 585.9,1551.2 586.9,1548.3 587.9,1543.5 589.0,1545.0 590.0,1539.8 591.1,1546.6 592.1,1554.1 593.2,1555.8 594.2,1562.8 595.3,1568.9 596.3,1570.1 597.3,1571.1 598.4,1566.0 599.4,1567.3 600.5,1567.1 601.5,1559.9 602.6,1553.0 603.6,1551.5 604.7,1548.6 605.7,1549.0 606.7,1549.6 607.8,1555.1 608.8,1558.0 609.9,1569.7 610.9,1573.1 612.0,1576.4 613.0,1582.9 614.1,1584.7 615.1,1587.4 616.1,1587.0 617.2,1588.5 618.2,1588.9 619.3,1589.5 620.3,1591.9 621.4,1589.8 622.4,1590.4 623.5,1592.7 624.5,1590.2 625.5,1592.9 626.6,1594.0 627.6,1594.6 628.7,1594.2 629.7,1588.7 630.8,1595.8 631.8,1596.7 632.9,1594.7 633.9,1598.7 634.9,1596.9 636.0,1595.6 637.0,1597.2 638.1,1598.8 639.1,1597.8 640.2,1598.5 641.2,1601.8 642.3,1604.3 643.3,1599.7 644.3,1599.9 645.4,1605.9 646.4,1601.7 647.5,1602.3 648.5,1602.9 649.6,1604.5 650.6,1605.2 651.7,1606.4 652.7,1608.8 653.7,1608.0 654.8,1609.0 655.8,1603.4 656.9,1608.9 657.9,1614.0 659.0,1606.9 660.0,1612.4 661.1,1607.4 662.1,1608.6 663.1,1608.8 664.2,1606.4 665.2,1610.7 666.3,1609.3 667.3,1615.2 668.4,1609.9 669.4,1608.7 670.5,1618.9 671.5,1613.9 672.5,1615.4 673.6,1621.3 674.6,1614.6 675.7,1612.3 676.7,1615.9 677.8,1617.0 678.8,1616.7 679.9,1619.3 680.9,1615.3 681.9,1622.1 683.0,1619.1 684.0,1619.4 685.1,1625.1 686.1,1616.2 687.2,1619.9 688.2,1625.9 689.3,1623.7 690.3,1624.5 691.3,1622.6 692.4,1626.6 693.4,1626.2 694.5,1622.8 695.5,1622.4 696.6,1623.5 697.6,1626.0 698.7,1624.9 699.7,1619.6 700.7,1625.1 701.8,1628.2 702.8,1630.4 703.9,1628.9 704.9,1624.8 706.0,1628.0 707.0,1631.6 708.1,1626.4 709.1,1630.0 710.1,1628.9 711.2,1632.3 712.2,1632.5 713.3,1630.2 714.3,1634.8 715.4,1633.3 716.4,1631.8 717.5,1635.4 718.5,1637.6 719.5,1632.4 720.6,1632.1 721.6,1637.0 722.7,1632.0 723.7,1635.0 724.8,1637.3 725.8,1632.0 726.9,1632.2 727.9,1630.0 728.9,1631.5 730.0,1626.4 731.0,1625.8 732.1,1630.5 733.1,1624.7 734.2,1636.9 735.2,1639.3 736.3,1636.5 737.3,1635.7 738.3,1637.6 739.4,1641.1 740.4,1640.6 741.5,1646.5 742.5,1641.5 743.6,1646.6 744.6,1644.1 745.7,1641.2 746.7,1649.3 747.7,1649.4 748.8,1647.3 749.8,1646.8 750.9,1648.0 751.9,1647.7 753.0,1645.9 754.0,1650.5 755.1,1650.7 756.1,1650.0 757.1,1649.0 758.2,1648.3 759.2,1649.0 760.3,1651.1 761.3,1646.0 762.4,1647.0 763.4,1652.5 764.5,1649.6 765.5,1656.1 766.5,1652.7 767.6,1653.3 768.6,1657.7 769.7,1657.9 770.7,1654.7 771.8,1654.3 772.8,1659.8 773.9,1652.4 774.9,1652.1 775.9,1655.5 777.0,1652.3 778.0,1654.4 779.1,1659.8 780.1,1662.2 781.2,1658.2 782.2,1659.2 783.3,1656.1 784.3,1663.2 785.4,1660.4 786.4,1657.0 787.4,1660.4 788.5,1661.7 789.5,1663.6 790.6,1667.2 791.6,1664.0 792.7,1656.3 793.7,1661.9 794.8,1667.3 795.8,1659.3 796.8,1666.3 797.9,1657.1 798.9,1670.6 800.0,1661.8 801.0,1668.3 802.1,1664.0 803.1,1674.0 804.2,1666.5 805.2,1669.7 806.2,1660.7 807.3,1667.5 808.3,1663.1 809.4,1659.7 810.4,1667.5 811.5,1667.6 812.5,1674.4 813.6,1672.2 814.6,1668.6 815.6,1671.9 816.7,1673.1 817.7,1666.5 818.8,1672.6 819.8,1671.6 820.9,1674.5 821.9,1674.6 823.0,1675.7 824.0,1674.9 825.0,1675.7 826.1,1675.8 827.1,1678.4 828.2,1671.7 829.2,1672.2 830.3,1677.7 831.3,1674.7 832.4,1677.9 833.4,1673.5 834.4,1670.7 835.5,1674.0 836.5,1673.1 837.6,1674.9 838.6,1678.4 839.7,1671.7 840.7,1673.2 841.8,1676.1 842.8,1677.3 843.8,1682.6 844.9,1678.2 845.9,1672.6 847.0,1686.1 848.0,1679.5 849.1,1683.8 850.1,1680.2 851.2,1678.3 852.2,1695.3 853.2,1676.3 854.3,1684.1 855.3,1683.4 856.4,1680.6 857.4,1686.1 858.5,1686.1 859.5,1683.6 860.6,1685.0 861.6,1682.5 862.6,1678.8 863.7,1678.6 864.7,1686.6 865.8,1683.7 866.8,1689.8 867.9,1682.7 868.9,1691.8 870.0,1681.0 871.0,1688.5 872.0,1681.9 873.1,1686.0 874.1,1695.6 875.2,1690.7 876.2,1690.3 877.3,1688.2 878.3,1689.3 879.4,1684.0 880.4,1690.2 881.4,1689.8 882.5,1696.6 883.5,1692.6 884.6,1689.6 885.6,1691.3 886.7,1692.7 887.7,1690.7 888.8,1699.6 889.8,1688.2 890.8,1692.3 891.9,1685.0 892.9,1692.8 894.0,1701.2 895.0,1703.1 896.1,1696.7 897.1,1696.6 898.2,1697.7 899.2,1696.8 900.2,1695.3 901.3,1689.8 902.3,1688.1 903.4,1692.2 904.4,1696.9 905.5,1699.3 906.5,1691.0 907.6,1697.7 908.6,1699.6 909.6,1707.8 910.7,1699.3 911.7,1693.0 912.8,1701.6 913.8,1700.7 914.9,1704.5 915.9,1705.7 917.0,1701.8 918.0,1698.0 919.0,1698.5 920.1,1700.5 921.1,1701.9 922.2,1705.0 923.2,1693.9 924.3,1698.0 925.3,1700.0 926.4,1685.0 927.4,1686.4 928.4,1694.8 929.5,1691.8 930.5,1694.1 931.6,1693.1 932.6,1703.4 933.7,1695.6 934.7,1696.3 935.8,1693.4 936.8,1695.7 937.8,1697.8 938.9,1707.0 939.9,1704.6 941.0,1718.9 942.0,1698.6 943.1,1704.0 944.1,1706.2 945.2,1713.8 946.2,1710.9 947.2,1717.7 948.3,1711.7 949.3,1702.6 950.4,1705.3 951.4,1714.0 952.5,1707.4 953.5,1711.2 954.6,1702.2 955.6,1709.9 956.6,1711.3 957.7,1717.1 958.7,1707.1 959.8,1701.9 960.8,1715.6 961.9,1714.5 962.9,1714.7 964.0,1709.3 965.0,1706.2 966.0,1707.1 967.1,1713.4 968.1,1716.5 969.2,1704.4 970.2,1709.8 971.3,1708.1 972.3,1712.5 973.4,1716.2 974.4,1717.2 975.4,1715.1 976.5,1721.0 977.5,1724.3 978.6,1709.2 979.6,1727.5 980.7,1716.2 981.7,1725.5 982.8,1723.5 983.8,1730.3 984.8,1713.4 985.9,1727.6 986.9,1719.8 988.0,1713.9 989.0,1733.1 990.1,1732.0 991.1,1733.1 992.2,1724.7 993.2,1726.0 994.3,1728.3 995.3,1716.7 996.3,1725.6 997.4,1715.6 998.4,1718.9 999.5,1723.3 1000.5,1722.5 1001.6,1722.1 1002.6,1728.3 1003.7,1733.5 1004.7,1724.3 1005.7,1730.7 1006.8,1726.3 1007.8,1723.8 1008.9,1720.0 1009.9,1725.5 1011.0,1731.7 1012.0,1717.3 1013.1,1720.1 1014.1,1720.9 1015.1,1729.5 1016.2,1734.3 1017.2,1727.9 1018.3,1721.5 1019.3,1741.2 1020.4,1731.9 1021.4,1731.4 1022.5,1726.7 1023.5,1724.2 1024.5,1738.4 1025.6,1726.3 1026.6,1729.5 1027.7,1741.3 1028.7,1722.3 1029.8,1734.5 1030.8,1731.8 1031.9,1732.9 1032.9,1741.1 1033.9,1721.9 1035.0,1730.1 1036.0,1729.8 1037.1,1731.2 1038.1,1715.3 1039.2,1711.2 1040.2,1727.9 1041.3,1728.7 1042.3,1711.4 1043.3,1735.1 1044.4,1718.3 1045.4,1736.4 1046.5,1727.9 1047.5,1741.9 1048.6,1739.4 1049.6,1736.9 1050.7,1725.1 1051.7,1725.0 1052.7,1740.5 1053.8,1733.9 1054.8,1748.5 1055.9,1740.5 1056.9,1738.6 1058.0,1729.3 1059.0,1748.4 1060.1,1743.2 1061.1,1746.9 1062.1,1744.9 1063.2,1732.5 1064.2,1741.1 1065.3,1749.5 1066.3,1736.4 1067.4,1749.3 1068.4,1748.6 1069.5,1743.0 1070.5,1736.6 1071.5,1758.2 1072.6,1733.4 1073.6,1745.5 1074.7,1747.3 1075.7,1742.7 1076.8,1747.4 1077.8,1749.7 1078.9,1747.5 1079.9,1749.0 1080.9,1748.3 1082.0,1764.3 1083.0,1757.1 1084.1,1740.9 1085.1,1735.4 1086.2,1747.3 1087.2,1755.0 1088.3,1747.5 1089.3,1749.0 1090.3,1745.8 1091.4,1743.1 1092.4,1757.0 1093.5,1747.1 1094.5,1747.2 1095.6,1747.3 1096.6,1754.2 1097.7,1742.6 1098.7,1763.2 1099.7,1752.9 1100.8,1759.9 1101.8,1748.9 1102.9,1750.2 1103.9,1758.8 1105.0,1749.0 1106.0,1751.9 1107.1,1761.2 1108.1,1746.2 1109.1,1757.5 1110.2,1748.3 1111.2,1760.3 1112.3,1756.8 1113.3,1758.9 1114.4,1766.7 1115.4,1745.0 1116.5,1756.6 1117.5,1747.7 1118.5,1761.7 1119.6,1756.8 1120.6,1776.0 1121.7,1764.3 1122.7,1748.6 1123.8,1756.1 1124.8,1746.1 1125.9,1758.2 1126.9,1752.7 1127.9,1748.4 1129.0,1745.8 1130.0,1759.5 1131.1,1752.9 1132.1,1747.8 1133.2,1762.4 1134.2,1757.7 1135.3,1750.5 1136.3,1766.9 1137.3,1760.9 1138.4,1754.3 1139.4,1748.8 1140.5,1754.1 1141.5,1765.4 1142.6,1771.1 1143.6,1763.2 1144.7,1769.7 1145.7,1756.2 1146.7,1759.1 1147.8,1776.6 1148.8,1765.5 1149.9,1767.0 1150.9,1771.0 1152.0,1763.4 1153.0,1764.9 1154.1,1774.4 1155.1,1775.4 1156.1,1771.3 1157.2,1762.1 1158.2,1768.8 1159.3,1772.3 1160.3,1785.1 1161.4,1766.6 1162.4,1766.9 1163.5,1770.1 1164.5,1782.3 1165.5,1767.4 1166.6,1768.2 1167.6,1759.2 1168.7,1763.6 1169.7,1769.3 1170.8,1773.1 1171.8,1769.2 1172.9,1771.7 1173.9,1785.0 1174.9,1763.7 1176.0,1777.0 1177.0,1770.6 1178.1,1773.2 1179.1,1775.6 1180.2,1776.2 1181.2,1769.2 1182.3,1764.9 1183.3,1782.2 1184.3,1777.4 1185.4,1769.4 1186.4,1791.5 1187.5,1777.3 1188.5,1772.0 1189.6,1766.5 1190.6,1781.7 1191.7,1780.3 1192.7,1773.4 1193.7,1783.6 1194.8,1794.8 1195.8,1777.3 1196.9,1772.8 1197.9,1780.8 1199.0,1790.9 1200.0,1793.7 1201.1,1784.2 1202.1,1783.2 1203.2,1775.7 1204.2,1795.5 1205.2,1770.4 1206.3,1797.7 1207.3,1788.5 1208.4,1785.8 1209.4,1771.4 1210.5,1785.7 1211.5,1795.0 1212.6,1796.9 1213.6,1781.1 1214.6,1802.2 1215.7,1781.4" stroke="#f40000" stroke-width="2.3"/>
<path d="M245.3,1830.6 246.4,1830.6 247.4,1830.6 248.5,1829.0 249.5,1610.2 250.6,1442.3 251.6,1318.7 252.7,1232.5 253.7,1177.0 254.7,1145.4 255.8,1131.1 256.8,1127.1 257.9,1127.0 258.9,1130.4 260.0,1143.6 261.0,1173.5 262.1,1226.7 263.1,1310.0 264.1,1430.2 265.2,1594.0 266.2,1808.2 267.3,1830.6 268.3,1830.6 269.4,1830.6 270.4,1830.6 271.5,1830.6 272.5,1830.6 273.5,1830.6 274.6,1724.1 275.6,1582.8 276.7,1460.5 277.7,1356.5 278.8,1269.7 279.8,1199.0 280.9,1143.2 281.9,1101.2 282.9,1071.6 284.0,1052.8 285.0,1043.1 286.1,1040.0 287.1,1040.6 288.2,1045.8 289.2,1058.8 290.3,1081.5 291.3,1115.5 292.3,1162.1 293.4,1222.1 294.4,1295.2 295.5,1377.1 296.5,1454.8 297.6,1505.0 298.6,1521.8 299.7,1523.1 300.7,1522.4 301.7,1524.2 302.8,1526.8 303.8,1523.8 304.9,1505.2 305.9,1465.9 307.0,1413.8 308.0,1361.2 309.1,1315.7 310.1,1280.9 311.1,1258.2 312.2,1248.2 313.2,1250.2 314.3,1261.8 315.3,1283.1 316.4,1313.8 317.4,1354.1 318.5,1403.6 319.5,1461.7 320.5,1526.3 321.6,1591.6 322.6,1644.8 323.7,1670.3 324.7,1673.6 325.8,1661.7 326.8,1644.7 327.9,1634.0" stroke="#0a7a30" stroke-width="2.7"/>
<path d="M327.9,1634.0 328.9,1623.3 329.9,1612.8 331.0,1605.8 332.0,1600.7 333.1,1594.0 334.1,1588.9 335.2,1581.7 336.2,1575.3 337.3,1572.0 338.3,1569.0 339.3,1565.4 340.4,1563.6 341.4,1560.0 342.5,1558.4 343.5,1554.7 344.6,1552.5 345.6,1549.2 346.7,1547.1 347.7,1545.0 348.7,1542.2 349.8,1538.4 350.8,1535.3 351.9,1534.5 352.9,1532.3 354.0,1530.8 355.0,1530.3 356.1,1527.7 357.1,1527.3 358.1,1525.7 359.2,1522.6 360.2,1518.6 361.3,1513.9 362.3,1508.0 363.4,1498.9 364.4,1491.2 365.5,1483.8 366.5,1480.4 367.6,1481.0 368.6,1484.8 369.6,1490.8 370.7,1497.4 371.7,1502.7 372.8,1505.0 373.8,1506.0 374.9,1506.5 375.9,1505.9 377.0,1504.5 378.0,1505.0 379.0,1503.7 380.1,1504.5 381.1,1502.3 382.2,1501.2 383.2,1501.9 384.3,1501.2 385.3,1501.2 386.4,1500.3 387.4,1500.9 388.4,1498.7 389.5,1498.8 390.5,1497.9 391.6,1497.3 392.6,1496.0 393.7,1497.1 394.7,1495.0 395.8,1496.1 396.8,1496.0 397.8,1495.8 398.9,1494.3 399.9,1495.8 401.0,1494.7 402.0,1495.3 403.1,1494.6 404.1,1496.1 405.2,1494.2 406.2,1494.3 407.2,1494.5 408.3,1493.1 409.3,1493.7 410.4,1493.9 411.4,1494.8 412.5,1494.9 413.5,1497.0 414.6,1497.6 415.6,1497.6 416.6,1497.2 417.7,1498.2 418.7,1499.8 419.8,1500.1 420.8,1499.8 421.9,1499.5 422.9,1501.2 424.0,1501.5 425.0,1501.5 426.0,1501.8 427.1,1501.4 428.1,1501.7 429.2,1501.8 430.2,1502.5 431.3,1500.8 432.3,1496.3 433.4,1489.8 434.4,1480.2 435.4,1463.7 436.5,1447.7 437.5,1431.0 438.6,1420.2 439.6,1409.5 440.7,1407.9 441.7,1410.5 442.8,1418.2 443.8,1432.9 444.8,1449.4 445.9,1467.2 446.9,1482.9 448.0,1495.7 449.0,1504.2 450.1,1508.2 451.1,1512.4 452.2,1512.7 453.2,1513.3 454.2,1514.7 455.3,1514.7 456.3,1515.2 457.4,1515.2 458.4,1517.2 459.5,1517.6 460.5,1516.6 461.6,1518.7 462.6,1517.8 463.6,1517.6 464.7,1517.7 465.7,1519.4 466.8,1519.2 467.8,1519.9 468.9,1522.9 469.9,1521.5 471.0,1521.0 472.0,1520.5 473.0,1521.6 474.1,1521.8 475.1,1522.3 476.2,1521.0 477.2,1524.0 478.3,1523.2 479.3,1527.1 480.4,1525.1 481.4,1526.8 482.4,1526.6 483.5,1525.9 484.5,1527.4 485.6,1527.2 486.6,1527.7 487.7,1528.6 488.7,1527.0 489.8,1531.1 490.8,1530.7 491.8,1530.3 492.9,1532.5 493.9,1530.2 495.0,1528.9 496.0,1532.5 497.1,1531.6 498.1,1532.9 499.2,1532.8 500.2,1533.6 501.2,1533.1 502.3,1534.6 503.3,1536.0 504.4,1536.0 505.4,1538.1 506.5,1537.2 507.5,1537.4 508.6,1537.6 509.6,1538.4 510.6,1537.9 511.7,1536.9 512.7,1537.6 513.8,1537.1 514.8,1539.5 515.9,1540.4 516.9,1541.3 518.0,1542.6 519.0,1540.9 520.0,1539.0 521.1,1541.2 522.1,1542.0 523.2,1539.3 524.2,1539.5 525.3,1538.7 526.3,1542.0 527.4,1540.0 528.4,1537.4 529.4,1538.3 530.5,1540.4 531.5,1542.3 532.6,1544.1 533.6,1543.7 534.7,1545.1 535.7,1549.4 536.8,1548.0 537.8,1550.1 538.8,1549.0 539.9,1549.8 540.9,1550.3 542.0,1549.8 543.0,1552.4 544.1,1552.3 545.1,1551.3 546.2,1552.1 547.2,1554.7 548.2,1551.1 549.3,1554.3 550.3,1555.2 551.4,1556.4 552.4,1556.7 553.5,1553.5 554.5,1556.6 555.6,1555.1 556.6,1557.5 557.6,1556.8 558.7,1558.4 559.7,1556.1 560.8,1557.7 561.8,1558.3 562.9,1557.9 563.9,1557.7 565.0,1557.8 566.0,1551.1 567.0,1550.7 568.1,1545.8 569.1,1548.5 570.2,1549.9 571.2,1548.3 572.3,1552.1 573.3,1556.4 574.4,1556.6 575.4,1560.5 576.5,1563.2 577.5,1562.2 578.5,1562.8 579.6,1565.4 580.6,1565.2 581.7,1568.4 582.7,1563.3 583.8,1563.7 584.8,1564.0 585.9,1567.8 586.9,1566.8 587.9,1566.9 589.0,1566.8 590.0,1567.1 591.1,1567.3 592.1,1570.2 593.2,1570.4 594.2,1572.5 595.3,1572.8 596.3,1574.0 597.3,1574.6 598.4,1579.2 599.4,1579.5 600.5,1577.9 601.5,1571.8 602.6,1576.9 603.6,1578.7 604.7,1577.0 605.7,1573.4 606.7,1576.5 607.8,1583.3 608.8,1578.4 609.9,1576.6 610.9,1580.2 612.0,1583.5 613.0,1582.4 614.1,1580.4 615.1,1578.8 616.1,1584.4 617.2,1580.9 618.2,1587.1 619.3,1588.1 620.3,1586.8 621.4,1586.5 622.4,1586.7 623.5,1586.9 624.5,1586.3 625.5,1586.3 626.6,1586.8 627.6,1592.9 628.7,1593.9 629.7,1590.5 630.8,1592.1 631.8,1590.7 632.9,1592.2 633.9,1595.4 634.9,1595.1 636.0,1595.7 637.0,1595.5 638.1,1596.2 639.1,1593.2 640.2,1597.0 641.2,1591.8 642.3,1596.8 643.3,1597.6 644.3,1598.3 645.4,1593.2 646.4,1600.5 647.5,1595.8 648.5,1593.3 649.6,1599.3 650.6,1599.9 651.7,1596.7 652.7,1601.8 653.7,1601.2 654.8,1601.9 655.8,1599.4 656.9,1604.9 657.9,1603.7 659.0,1603.4 660.0,1601.6 661.1,1603.1 662.1,1604.7 663.1,1601.3 664.2,1604.3 665.2,1609.9 666.3,1606.9 667.3,1607.7 668.4,1607.2 669.4,1610.8 670.5,1611.7 671.5,1610.3 672.5,1609.1 673.6,1612.4 674.6,1613.5 675.7,1611.1 676.7,1613.4 677.8,1614.0 678.8,1615.3 679.9,1613.9 680.9,1612.5 681.9,1614.8 683.0,1614.0 684.0,1615.4 685.1,1619.8 686.1,1618.7 687.2,1617.0 688.2,1618.4 689.3,1619.4 690.3,1619.5 691.3,1617.8 692.4,1618.2 693.4,1614.0 694.5,1620.3 695.5,1626.0 696.6,1619.2 697.6,1625.8 698.7,1619.9 699.7,1621.4 700.7,1626.2 701.8,1620.8 702.8,1622.5 703.9,1627.7 704.9,1624.2 706.0,1627.4 707.0,1632.6 708.1,1623.2 709.1,1629.9 710.1,1632.1 711.2,1627.1 712.2,1627.0 713.3,1629.8 714.3,1629.1 715.4,1630.6 716.4,1620.6 717.5,1621.0 718.5,1618.8 719.5,1609.6 720.6,1596.4 721.6,1586.6 722.7,1570.9 723.7,1550.4 724.8,1531.3 725.8,1521.8 726.9,1507.6 727.9,1497.5 728.9,1489.9 730.0,1480.9 731.0,1479.9 732.1,1486.8 733.1,1486.2 734.2,1492.9 735.2,1504.4 736.3,1522.9 737.3,1542.9 738.3,1557.2 739.4,1566.3 740.4,1587.5 741.5,1599.9 742.5,1616.7 743.6,1624.4 744.6,1630.0 745.7,1633.1 746.7,1642.4 747.7,1635.7 748.8,1640.3 749.8,1639.0 750.9,1646.4 751.9,1648.2 753.0,1645.6 754.0,1647.6 755.1,1644.9 756.1,1640.5 757.1,1645.9 758.2,1652.2 759.2,1644.4 760.3,1648.9 761.3,1641.0 762.4,1647.2 763.4,1648.9 764.5,1644.0 765.5,1634.7 766.5,1638.1 767.6,1630.9 768.6,1632.5 769.7,1625.4 770.7,1619.0 771.8,1615.4 772.8,1606.7 773.9,1606.5 774.9,1608.1 775.9,1606.5 777.0,1612.8 778.0,1611.6 779.1,1621.4 780.1,1615.2 781.2,1623.2 782.2,1630.3 783.3,1630.5 784.3,1641.6 785.4,1643.4 786.4,1648.0 787.4,1650.4 788.5,1654.8 789.5,1658.3 790.6,1655.0 791.6,1659.6 792.7,1652.3 793.7,1655.6 794.8,1654.9 795.8,1661.1 796.8,1659.9 797.9,1657.2 798.9,1660.9 800.0,1660.5 801.0,1656.2 802.1,1666.1 803.1,1661.9 804.2,1665.1 805.2,1666.9 806.2,1671.2 807.3,1663.9 808.3,1662.0 809.4,1661.4 810.4,1663.2 811.5,1666.7 812.5,1664.7 813.6,1663.3 814.6,1660.6 815.6,1664.1 816.7,1670.5 817.7,1669.0 818.8,1668.0 819.8,1672.4 820.9,1671.0 821.9,1662.6 823.0,1671.6 824.0,1665.7 825.0,1671.6 826.1,1665.7 827.1,1667.3 828.2,1662.6 829.2,1667.4 830.3,1672.0 831.3,1671.2 832.4,1674.9 833.4,1671.2 834.4,1674.7 835.5,1674.3 836.5,1674.2 837.6,1676.0 838.6,1670.8 839.7,1679.1 840.7,1676.9 841.8,1663.6 842.8,1665.0 843.8,1675.7 844.9,1676.5 845.9,1671.5 847.0,1685.1 848.0,1673.7 849.1,1679.1 850.1,1681.4 851.2,1673.7 852.2,1670.8 853.2,1675.7 854.3,1673.5 855.3,1680.6 856.4,1671.6 857.4,1682.3 858.5,1688.3 859.5,1678.2 860.6,1677.3 861.6,1681.6 862.6,1679.9 863.7,1676.1 864.7,1674.1 865.8,1688.7 866.8,1677.0 867.9,1682.0 868.9,1684.3 870.0,1685.7 871.0,1684.5 872.0,1678.7 873.1,1685.0 874.1,1686.0 875.2,1678.1 876.2,1687.0 877.3,1675.9 878.3,1685.3 879.4,1679.7 880.4,1680.7 881.4,1688.9 882.5,1679.6 883.5,1688.2 884.6,1691.0 885.6,1681.7 886.7,1687.4 887.7,1694.0 888.8,1686.0 889.8,1689.3 890.8,1693.1 891.9,1692.6 892.9,1696.6 894.0,1687.4 895.0,1700.4 896.1,1694.5 897.1,1690.1 898.2,1685.1 899.2,1696.0 900.2,1692.4 901.3,1689.8 902.3,1697.8 903.4,1698.2 904.4,1698.5 905.5,1688.7 906.5,1689.7 907.6,1688.3 908.6,1695.0 909.6,1702.1 910.7,1701.4 911.7,1702.1 912.8,1688.5 913.8,1696.2 914.9,1692.0 915.9,1695.1 917.0,1696.6 918.0,1696.4 919.0,1683.0 920.1,1697.5 921.1,1686.1 922.2,1689.1 923.2,1673.6 924.3,1681.5 925.3,1678.8 926.4,1685.2 927.4,1664.1 928.4,1671.9 929.5,1666.8 930.5,1667.3 931.6,1684.4 932.6,1680.6 933.7,1686.2 934.7,1688.6 935.8,1689.6 936.8,1692.7 937.8,1689.3 938.9,1703.5 939.9,1704.3 941.0,1700.4 942.0,1712.5 943.1,1704.1 944.1,1698.9 945.2,1707.0 946.2,1708.7 947.2,1697.8 948.3,1707.9 949.3,1710.0 950.4,1704.0 951.4,1710.6 952.5,1712.5 953.5,1698.2 954.6,1710.9 955.6,1703.2 956.6,1701.1 957.7,1709.1 958.7,1704.3 959.8,1708.8 960.8,1704.8 961.9,1701.3 962.9,1709.8 964.0,1706.4 965.0,1708.7 966.0,1705.1 967.1,1711.2 968.1,1709.2 969.2,1716.6 970.2,1707.3 971.3,1713.1 972.3,1705.9 973.4,1698.9 974.4,1715.4 975.4,1710.9 976.5,1713.1 977.5,1718.8 978.6,1705.2 979.6,1708.1 980.7,1707.6 981.7,1710.2 982.8,1729.9 983.8,1714.5 984.8,1716.5 985.9,1710.8 986.9,1715.8 988.0,1714.2 989.0,1725.4 990.1,1713.4 991.1,1722.8 992.2,1714.2 993.2,1716.4 994.3,1713.2 995.3,1721.7 996.3,1716.7 997.4,1724.0 998.4,1719.5 999.5,1715.5 1000.5,1713.0 1001.6,1723.6 1002.6,1711.4 1003.7,1723.8 1004.7,1706.0 1005.7,1724.3 1006.8,1723.1 1007.8,1721.3 1008.9,1725.9 1009.9,1712.9 1011.0,1719.8 1012.0,1726.7 1013.1,1730.8 1014.1,1724.1 1015.1,1725.7 1016.2,1724.2 1017.2,1730.1 1018.3,1718.4 1019.3,1708.9 1020.4,1732.6 1021.4,1728.9 1022.5,1716.6 1023.5,1728.1 1024.5,1736.2 1025.6,1739.8 1026.6,1724.5 1027.7,1734.5 1028.7,1717.6 1029.8,1728.8 1030.8,1729.4 1031.9,1713.9 1032.9,1708.6 1033.9,1729.1 1035.0,1719.1 1036.0,1723.2 1037.1,1701.3 1038.1,1695.6 1039.2,1711.4 1040.2,1694.0 1041.3,1681.3 1042.3,1693.3 1043.3,1699.8 1044.4,1700.4 1045.4,1683.3 1046.5,1706.3 1047.5,1692.9 1048.6,1728.8 1049.6,1706.6 1050.7,1715.1 1051.7,1724.8 1052.7,1723.1 1053.8,1737.7 1054.8,1726.3 1055.9,1735.4 1056.9,1736.4 1058.0,1737.1 1059.0,1725.9 1060.1,1748.5 1061.1,1729.3 1062.1,1728.8 1063.2,1734.2 1064.2,1738.4 1065.3,1716.7 1066.3,1734.4 1067.4,1746.3 1068.4,1739.8 1069.5,1740.0 1070.5,1745.6 1071.5,1741.9 1072.6,1728.3 1073.6,1729.6 1074.7,1740.2 1075.7,1720.9 1076.8,1740.3 1077.8,1756.1 1078.9,1738.3 1079.9,1748.5 1080.9,1717.2 1082.0,1735.4 1083.0,1740.2 1084.1,1743.7 1085.1,1736.7 1086.2,1751.3 1087.2,1742.3 1088.3,1740.3 1089.3,1743.7 1090.3,1749.7 1091.4,1737.6 1092.4,1745.1 1093.5,1742.1 1094.5,1754.9 1095.6,1746.8 1096.6,1735.9 1097.7,1746.3 1098.7,1739.4 1099.7,1751.3 1100.8,1746.2 1101.8,1751.5 1102.9,1750.1 1103.9,1741.7 1105.0,1750.0 1106.0,1749.7 1107.1,1750.6 1108.1,1750.6 1109.1,1747.4 1110.2,1736.1 1111.2,1735.0 1112.3,1750.4 1113.3,1761.3 1114.4,1756.4 1115.4,1743.0 1116.5,1749.2 1117.5,1744.0 1118.5,1729.5 1119.6,1733.2 1120.6,1721.2 1121.7,1735.1 1122.7,1749.0 1123.8,1731.6 1124.8,1722.1 1125.9,1738.9 1126.9,1748.4 1127.9,1735.4 1129.0,1752.7 1130.0,1751.9 1131.1,1749.5 1132.1,1751.8 1133.2,1767.9 1134.2,1775.6 1135.3,1732.0 1136.3,1757.4 1137.3,1765.9 1138.4,1745.8 1139.4,1753.4 1140.5,1762.1 1141.5,1764.9 1142.6,1762.2 1143.6,1748.3 1144.7,1760.6 1145.7,1766.2 1146.7,1768.6 1147.8,1749.3 1148.8,1774.6 1149.9,1757.0 1150.9,1777.9 1152.0,1750.0 1153.0,1746.8 1154.1,1761.9 1155.1,1770.2 1156.1,1757.0 1157.2,1764.6 1158.2,1747.1 1159.3,1751.8 1160.3,1759.4 1161.4,1764.2 1162.4,1777.3 1163.5,1769.9 1164.5,1765.0 1165.5,1766.9 1166.6,1756.1 1167.6,1778.7 1168.7,1761.8 1169.7,1762.0 1170.8,1792.3 1171.8,1762.0 1172.9,1774.9 1173.9,1770.0 1174.9,1762.9 1176.0,1764.3 1177.0,1773.6 1178.1,1785.8 1179.1,1779.0 1180.2,1764.7 1181.2,1782.5 1182.3,1768.6 1183.3,1764.1 1184.3,1763.9 1185.4,1777.7 1186.4,1753.7 1187.5,1762.4 1188.5,1773.0 1189.6,1778.1 1190.6,1756.8 1191.7,1771.0 1192.7,1769.7 1193.7,1780.6 1194.8,1781.2 1195.8,1783.4 1196.9,1777.9 1197.9,1772.7 1199.0,1779.7 1200.0,1784.5 1201.1,1787.0 1202.1,1782.0 1203.2,1773.1 1204.2,1775.9 1205.2,1768.3 1206.3,1799.7 1207.3,1779.9 1208.4,1786.9 1209.4,1785.9 1210.5,1786.9 1211.5,1780.4 1212.6,1774.4 1213.6,1787.5 1214.6,1756.1 1215.7,1777.5" stroke="#00841a" stroke-width="2.3"/>
<path d="M245.3,1830.6 246.4,1830.6 247.4,1830.6 248.5,1830.6 249.5,1640.4 250.6,1462.1 251.6,1330.7 252.7,1239.1 253.7,1180.1 254.7,1146.6 255.8,1131.3 256.8,1127.1 257.9,1127.0 258.9,1130.6 260.0,1144.7 261.0,1176.4 262.1,1232.9 263.1,1321.4 264.1,1449.1 265.2,1623.2 266.2,1830.6 267.3,1830.6 268.3,1830.6 269.4,1830.6 270.4,1830.6 271.5,1830.6 272.5,1830.6 273.5,1830.6 274.6,1767.5 275.6,1618.8 276.7,1490.2 277.7,1380.8 278.8,1289.5 279.8,1215.1 280.9,1156.5 281.9,1112.3 282.9,1081.2 284.0,1061.4 285.0,1051.1 286.1,1047.9 287.1,1048.5 288.2,1054.0 289.2,1067.6 290.3,1091.4 291.3,1127.1 292.3,1175.9 293.4,1238.2 294.4,1312.6 295.5,1391.7 296.5,1456.4 297.6,1487.3 298.6,1492.2 299.7,1489.8 300.7,1488.5 301.7,1490.8 302.8,1495.4 303.8,1497.5 304.9,1487.9 305.9,1458.1 307.0,1411.4 308.0,1360.2 309.1,1314.3 310.1,1278.7 311.1,1255.3 312.2,1245.0 313.2,1247.2 314.3,1259.4 315.3,1281.5 316.4,1313.5 317.4,1355.5 318.5,1407.1 319.5,1467.5 320.5,1534.6 321.6,1601.8 322.6,1655.4 323.7,1678.0 324.7,1677.1 325.8,1665.5 326.8,1647.3 327.9,1635.6" stroke="#0a0aa8" stroke-width="3.1"/>
<path d="M327.9,1635.6 328.9,1624.8 329.9,1614.1 331.0,1608.8 332.0,1602.1 333.1,1595.3 334.1,1589.2 335.2,1584.1 336.2,1576.7 337.3,1573.0 338.3,1570.9 339.3,1568.6 340.4,1565.9 341.4,1562.2 342.5,1559.1 343.5,1556.5 344.6,1554.6 345.6,1551.8 346.7,1549.7 347.7,1546.8 348.7,1544.2 349.8,1540.3 350.8,1537.6 351.9,1536.2 352.9,1535.0 354.0,1532.9 355.0,1532.7 356.1,1529.6 357.1,1529.0 358.1,1527.1 359.2,1526.5 360.2,1525.1 361.3,1523.2 362.3,1522.2 363.4,1521.3 364.4,1518.7 365.5,1517.3 366.5,1516.0 367.6,1515.5 368.6,1514.2 369.6,1512.9 370.7,1513.6 371.7,1511.5 372.8,1510.0 373.8,1510.9 374.9,1508.9 375.9,1509.1 377.0,1508.6 378.0,1506.4 379.0,1505.5 380.1,1506.1 381.1,1503.6 382.2,1503.4 383.2,1503.2 384.3,1502.7 385.3,1503.5 386.4,1502.1 387.4,1500.5 388.4,1502.2 389.5,1501.1 390.5,1500.1 391.6,1500.9 392.6,1499.8 393.7,1499.2 394.7,1497.8 395.8,1497.9 396.8,1498.8 397.8,1498.1 398.9,1497.3 399.9,1496.4 401.0,1497.5 402.0,1497.2 403.1,1497.6 404.1,1497.3 405.2,1497.3 406.2,1496.6 407.2,1496.7 408.3,1495.9 409.3,1496.3 410.4,1496.5 411.4,1497.0 412.5,1496.7 413.5,1498.1 414.6,1498.2 415.6,1498.1 416.6,1499.3 417.7,1500.3 418.7,1500.0 419.8,1502.0 420.8,1501.7 421.9,1502.7 422.9,1502.9 424.0,1501.7 425.0,1502.1 426.0,1504.4 427.1,1504.2 428.1,1504.6 429.2,1505.7 430.2,1505.7 431.3,1505.5 432.3,1504.0 433.4,1504.4 434.4,1499.1 435.4,1497.8 436.5,1491.7 437.5,1487.4 438.6,1482.0 439.6,1478.8 440.7,1478.7 441.7,1478.7 442.8,1481.5 443.8,1488.3 444.8,1493.2 445.9,1500.6 446.9,1505.4 448.0,1510.1 449.0,1511.8 450.1,1514.2 451.1,1513.8 452.2,1516.1 453.2,1516.4 454.2,1517.9 455.3,1519.4 456.3,1518.4 457.4,1518.9 458.4,1517.8 459.5,1518.3 460.5,1520.9 461.6,1518.1 462.6,1519.7 463.6,1520.8 464.7,1521.6 465.7,1520.5 466.8,1521.4 467.8,1522.3 468.9,1523.4 469.9,1522.7 471.0,1522.9 472.0,1524.8 473.0,1525.1 474.1,1524.0 475.1,1525.4 476.2,1525.4 477.2,1526.0 478.3,1524.8 479.3,1527.2 480.4,1527.3 481.4,1526.6 482.4,1528.3 483.5,1527.9 484.5,1528.6 485.6,1529.4 486.6,1532.5 487.7,1531.9 488.7,1530.0 489.8,1533.0 490.8,1531.8 491.8,1534.0 492.9,1533.8 493.9,1534.9 495.0,1535.0 496.0,1533.8 497.1,1534.1 498.1,1535.4 499.2,1535.9 500.2,1537.4 501.2,1539.3 502.3,1537.2 503.3,1539.7 504.4,1538.4 505.4,1538.9 506.5,1537.4 507.5,1539.2 508.6,1540.3 509.6,1539.6 510.6,1539.4 511.7,1540.8 512.7,1542.6 513.8,1542.8 514.8,1541.2 515.9,1543.6 516.9,1542.6 518.0,1542.7 519.0,1545.5 520.0,1544.6 521.1,1544.4 522.1,1544.2 523.2,1539.8 524.2,1544.5 525.3,1544.3 526.3,1537.7 527.4,1536.9 528.4,1539.7 529.4,1542.4 530.5,1542.8 531.5,1544.9 532.6,1544.7 533.6,1546.0 534.7,1549.2 535.7,1547.6 536.8,1552.0 537.8,1551.8 538.8,1551.0 539.9,1550.4 540.9,1554.4 542.0,1552.3 543.0,1550.0 544.1,1551.8 545.1,1550.5 546.2,1555.1 547.2,1552.5 548.2,1554.6 549.3,1555.8 550.3,1557.5 551.4,1553.6 552.4,1557.4 553.5,1556.1 554.5,1557.1 555.6,1554.0 556.6,1558.2 557.6,1558.7 558.7,1558.8 559.7,1558.5 560.8,1554.1 561.8,1548.5 562.9,1545.1 563.9,1531.1 565.0,1524.3 566.0,1504.1 567.0,1486.7 568.1,1479.7 569.1,1470.0 570.2,1466.0 571.2,1468.6 572.3,1476.4 573.3,1486.1 574.4,1505.4 575.4,1521.8 576.5,1534.9 577.5,1546.0 578.5,1556.8 579.6,1563.4 580.6,1564.1 581.7,1561.9 582.7,1560.0 583.8,1552.0 584.8,1549.8 585.9,1544.6 586.9,1537.4 587.9,1533.4 589.0,1530.5 590.0,1527.5 591.1,1536.1 592.1,1541.2 593.2,1543.7 594.2,1552.7 595.3,1561.8 596.3,1566.8 597.3,1567.6 598.4,1569.8 599.4,1570.2 600.5,1572.7 601.5,1572.4 602.6,1570.7 603.6,1567.0 604.7,1567.5 605.7,1565.9 606.7,1570.4 607.8,1570.2 608.8,1572.0 609.9,1578.2 610.9,1578.3 612.0,1580.0 613.0,1580.5 614.1,1584.0 615.1,1588.4 616.1,1583.6 617.2,1589.2 618.2,1584.8 619.3,1585.9 620.3,1590.6 621.4,1586.7 622.4,1588.6 623.5,1588.8 624.5,1593.1 625.5,1591.9 626.6,1590.1 627.6,1590.8 628.7,1593.1 629.7,1591.1 630.8,1594.7 631.8,1596.2 632.9,1595.8 633.9,1592.2 634.9,1598.4 636.0,1595.6 637.0,1599.6 638.1,1597.8 639.1,1596.7 640.2,1593.2 641.2,1602.3 642.3,1596.7 643.3,1600.0 644.3,1601.8 645.4,1603.4 646.4,1598.1 647.5,1605.1 648.5,1599.9 649.6,1601.3 650.6,1607.3 651.7,1602.5 652.7,1603.2 653.7,1600.5 654.8,1604.3 655.8,1598.9 656.9,1605.7 657.9,1607.3 659.0,1606.3 660.0,1604.1 661.1,1611.6 662.1,1607.1 663.1,1606.6 664.2,1608.3 665.2,1606.4 666.3,1607.3 667.3,1606.1 668.4,1608.3 669.4,1605.7 670.5,1612.1 671.5,1610.6 672.5,1611.5 673.6,1613.4 674.6,1611.9 675.7,1618.5 676.7,1610.9 677.8,1615.2 678.8,1616.8 679.9,1614.8 680.9,1613.4 681.9,1613.5 683.0,1620.1 684.0,1616.8 685.1,1619.2 686.1,1613.4 687.2,1617.3 688.2,1620.6 689.3,1619.6 690.3,1620.3 691.3,1618.5 692.4,1623.9 693.4,1621.3 694.5,1624.2 695.5,1624.2 696.6,1621.6 697.6,1623.6 698.7,1624.5 699.7,1622.3 700.7,1625.1 701.8,1623.7 702.8,1622.1 703.9,1626.7 704.9,1627.5 706.0,1629.5 707.0,1629.2 708.1,1625.8 709.1,1626.3 710.1,1632.0 711.2,1627.1 712.2,1623.9 713.3,1623.6 714.3,1625.4 715.4,1630.3 716.4,1616.8 717.5,1617.5 718.5,1600.8 719.5,1587.4 720.6,1567.3 721.6,1554.1 722.7,1530.6 723.7,1501.8 724.8,1484.1 725.8,1458.8 726.9,1445.5 727.9,1434.4 728.9,1422.7 730.0,1419.5 731.0,1409.0 732.1,1424.7 733.1,1422.3 734.2,1427.0 735.2,1443.0 736.3,1457.1 737.3,1478.2 738.3,1505.9 739.4,1525.9 740.4,1553.1 741.5,1575.5 742.5,1598.2 743.6,1606.2 744.6,1618.2 745.7,1631.3 746.7,1640.8 747.7,1644.6 748.8,1642.4 749.8,1645.6 750.9,1650.7 751.9,1649.8 753.0,1641.1 754.0,1649.2 755.1,1650.0 756.1,1648.6 757.1,1647.2 758.2,1642.0 759.2,1648.9 760.3,1650.8 761.3,1649.5 762.4,1638.8 763.4,1647.0 764.5,1642.6 765.5,1639.3 766.5,1627.0 767.6,1623.5 768.6,1612.2 769.7,1605.9 770.7,1598.1 771.8,1591.7 772.8,1579.9 773.9,1582.6 774.9,1583.7 775.9,1576.0 777.0,1578.3 778.0,1581.0 779.1,1585.5 780.1,1593.2 781.2,1601.2 782.2,1617.4 783.3,1621.8 784.3,1625.8 785.4,1634.0 786.4,1642.3 787.4,1643.4 788.5,1654.2 789.5,1658.5 790.6,1651.2 791.6,1654.6 792.7,1656.9 793.7,1656.8 794.8,1663.5 795.8,1654.8 796.8,1661.4 797.9,1664.1 798.9,1669.5 800.0,1662.8 801.0,1664.1 802.1,1667.9 803.1,1658.4 804.2,1663.1 805.2,1669.2 806.2,1662.6 807.3,1666.7 808.3,1668.7 809.4,1667.0 810.4,1669.2 811.5,1665.8 812.5,1661.0 813.6,1661.6 814.6,1661.6 815.6,1670.3 816.7,1667.7 817.7,1666.4 818.8,1663.1 819.8,1680.4 820.9,1671.0 821.9,1664.6 823.0,1673.0 824.0,1670.4 825.0,1674.3 826.1,1678.1 827.1,1677.8 828.2,1672.6 829.2,1671.8 830.3,1671.0 831.3,1666.9 832.4,1668.2 833.4,1681.2 834.4,1671.6 835.5,1669.2 836.5,1671.4 837.6,1664.7 838.6,1676.9 839.7,1671.8 840.7,1675.3 841.8,1672.3 842.8,1665.7 843.8,1684.3 844.9,1675.7 845.9,1672.3 847.0,1672.5 848.0,1675.9 849.1,1676.0 850.1,1672.8 851.2,1673.8 852.2,1679.6 853.2,1684.3 854.3,1673.6 855.3,1679.4 856.4,1683.9 857.4,1685.5 858.5,1676.1 859.5,1675.6 860.6,1677.2 861.6,1682.8 862.6,1686.9 863.7,1681.7 864.7,1677.5 865.8,1678.6 866.8,1685.4 867.9,1680.8 868.9,1681.8 870.0,1684.7 871.0,1682.9 872.0,1685.5 873.1,1679.7 874.1,1685.4 875.2,1689.2 876.2,1685.8 877.3,1689.2 878.3,1690.5 879.4,1687.0 880.4,1693.3 881.4,1691.3 882.5,1692.0 883.5,1688.1 884.6,1689.7 885.6,1695.4 886.7,1687.3 887.7,1694.6 888.8,1675.5 889.8,1683.4 890.8,1687.9 891.9,1694.6 892.9,1690.2 894.0,1686.3 895.0,1696.2 896.1,1689.4 897.1,1689.5 898.2,1689.3 899.2,1689.6 900.2,1691.0 901.3,1696.0 902.3,1697.2 903.4,1679.6 904.4,1707.8 905.5,1690.4 906.5,1696.0 907.6,1688.6 908.6,1699.6 909.6,1694.2 910.7,1701.3 911.7,1694.3 912.8,1703.4 913.8,1691.1 914.9,1698.7 915.9,1701.8 917.0,1695.1 918.0,1684.7 919.0,1683.3 920.1,1692.1 921.1,1680.2 922.2,1688.4 923.2,1680.7 924.3,1677.5 925.3,1674.2 926.4,1673.7 927.4,1676.0 928.4,1675.7 929.5,1662.3 930.5,1679.3 931.6,1673.9 932.6,1689.8 933.7,1680.4 934.7,1681.7 935.8,1686.1 936.8,1695.9 937.8,1697.8 938.9,1695.1 939.9,1697.1 941.0,1697.5 942.0,1712.4 943.1,1705.1 944.1,1703.4 945.2,1705.7 946.2,1707.1 947.2,1705.0 948.3,1709.1 949.3,1712.2 950.4,1707.8 951.4,1707.3 952.5,1704.9 953.5,1712.1 954.6,1708.1 955.6,1711.2 956.6,1705.4 957.7,1714.5 958.7,1705.1 959.8,1713.6 960.8,1705.2 961.9,1708.5 962.9,1722.9 964.0,1714.3 965.0,1711.9 966.0,1716.6 967.1,1717.9 968.1,1712.6 969.2,1708.2 970.2,1702.8 971.3,1707.5 972.3,1723.5 973.4,1714.0 974.4,1714.9 975.4,1715.3 976.5,1708.6 977.5,1715.0 978.6,1708.3 979.6,1720.7 980.7,1724.0 981.7,1716.8 982.8,1725.3 983.8,1728.4 984.8,1712.8 985.9,1718.1 986.9,1711.4 988.0,1717.0 989.0,1727.8 990.1,1723.2 991.1,1708.1 992.2,1724.4 993.2,1720.3 994.3,1708.2 995.3,1725.4 996.3,1719.1 997.4,1713.4 998.4,1718.0 999.5,1713.8 1000.5,1714.8 1001.6,1723.1 1002.6,1713.3 1003.7,1716.5 1004.7,1718.4 1005.7,1726.8 1006.8,1727.9 1007.8,1730.7 1008.9,1730.6 1009.9,1721.2 1011.0,1722.3 1012.0,1716.0 1013.1,1735.1 1014.1,1730.8 1015.1,1733.4 1016.2,1719.2 1017.2,1726.4 1018.3,1723.6 1019.3,1743.5 1020.4,1720.2 1021.4,1724.8 1022.5,1729.6 1023.5,1728.9 1024.5,1722.9 1025.6,1729.1 1026.6,1723.5 1027.7,1717.5 1028.7,1732.8 1029.8,1727.8 1030.8,1719.7 1031.9,1730.2 1032.9,1705.2 1033.9,1708.4 1035.0,1717.5 1036.0,1707.3 1037.1,1700.3 1038.1,1692.7 1039.2,1700.8 1040.2,1692.9 1041.3,1689.8 1042.3,1691.6 1043.3,1697.5 1044.4,1683.6 1045.4,1689.6 1046.5,1688.1 1047.5,1704.9 1048.6,1702.9 1049.6,1717.1 1050.7,1703.6 1051.7,1738.1 1052.7,1722.6 1053.8,1735.2 1054.8,1714.0 1055.9,1743.8 1056.9,1731.7 1058.0,1726.3 1059.0,1742.3 1060.1,1740.6 1061.1,1737.3 1062.1,1734.6 1063.2,1740.3 1064.2,1746.6 1065.3,1745.3 1066.3,1741.0 1067.4,1743.2 1068.4,1731.9 1069.5,1736.0 1070.5,1739.2 1071.5,1741.3 1072.6,1747.9 1073.6,1749.0 1074.7,1745.6 1075.7,1744.0 1076.8,1732.9 1077.8,1758.7 1078.9,1745.1 1079.9,1727.9 1080.9,1744.9 1082.0,1741.0 1083.0,1742.9 1084.1,1733.8 1085.1,1748.0 1086.2,1744.6 1087.2,1748.1 1088.3,1750.1 1089.3,1740.5 1090.3,1750.5 1091.4,1745.6 1092.4,1761.3 1093.5,1765.3 1094.5,1741.2 1095.6,1752.9 1096.6,1751.2 1097.7,1736.3 1098.7,1754.0 1099.7,1751.0 1100.8,1734.8 1101.8,1757.6 1102.9,1757.9 1103.9,1762.5 1105.0,1755.2 1106.0,1754.8 1107.1,1745.6 1108.1,1749.7 1109.1,1754.5 1110.2,1757.9 1111.2,1747.7 1112.3,1751.7 1113.3,1761.3 1114.4,1767.2 1115.4,1774.6 1116.5,1763.7 1117.5,1750.5 1118.5,1747.2 1119.6,1760.7 1120.6,1757.4 1121.7,1754.8 1122.7,1758.3 1123.8,1768.5 1124.8,1752.8 1125.9,1765.9 1126.9,1764.4 1127.9,1762.5 1129.0,1769.5 1130.0,1752.7 1131.1,1744.9 1132.1,1749.5 1133.2,1765.0 1134.2,1771.1 1135.3,1767.6 1136.3,1758.1 1137.3,1771.8 1138.4,1761.7 1139.4,1764.4 1140.5,1759.1 1141.5,1759.5 1142.6,1775.0 1143.6,1736.0 1144.7,1757.7 1145.7,1755.0 1146.7,1760.5 1147.8,1757.1 1148.8,1771.5 1149.9,1766.9 1150.9,1750.0 1152.0,1756.8 1153.0,1768.0 1154.1,1761.0 1155.1,1761.9 1156.1,1757.9 1157.2,1766.8 1158.2,1779.6 1159.3,1768.3 1160.3,1773.3 1161.4,1771.3 1162.4,1753.5 1163.5,1757.5 1164.5,1754.3 1165.5,1751.4 1166.6,1784.7 1167.6,1771.4 1168.7,1768.6 1169.7,1755.9 1170.8,1773.3 1171.8,1769.5 1172.9,1789.8 1173.9,1782.0 1174.9,1774.6 1176.0,1768.7 1177.0,1754.1 1178.1,1776.5 1179.1,1770.6 1180.2,1771.5 1181.2,1776.6 1182.3,1790.1 1183.3,1777.8 1184.3,1780.1 1185.4,1776.8 1186.4,1769.4 1187.5,1770.1 1188.5,1772.3 1189.6,1781.1 1190.6,1785.8 1191.7,1777.8 1192.7,1767.4 1193.7,1777.1 1194.8,1791.3 1195.8,1777.0 1196.9,1776.0 1197.9,1772.5 1199.0,1768.2 1200.0,1790.9 1201.1,1777.7 1202.1,1776.3 1203.2,1776.9 1204.2,1776.7 1205.2,1780.3 1206.3,1785.5 1207.3,1790.2 1208.4,1795.8 1209.4,1761.7 1210.5,1787.2 1211.5,1772.3 1212.6,1768.3 1213.6,1786.9 1214.6,1781.4 1215.7,1784.5" stroke="#0000e0" stroke-width="2.4"/>
</g>
<rect x="191.8" y="969.2" width="1023.1000000000001" height="821.3999999999999" fill="none" stroke="#000" stroke-width="2.9"/>
<path d="M216.6 1790.6V1800.2 M258.4 1790.6V1808.2 M300.2 1790.6V1800.2 M342.0 1790.6V1800.2 M383.7 1790.6V1800.2 M425.5 1790.6V1800.2 M467.3 1790.6V1808.2 M509.1 1790.6V1800.2 M550.9 1790.6V1800.2 M592.6 1790.6V1800.2 M634.4 1790.6V1800.2 M676.2 1790.6V1808.2 M718.0 1790.6V1800.2 M759.8 1790.6V1800.2 M801.5 1790.6V1800.2 M843.3 1790.6V1800.2 M885.1 1790.6V1808.2 M926.9 1790.6V1800.2 M968.7 1790.6V1800.2 M1010.4 1790.6V1800.2 M1052.2 1790.6V1800.2 M1094.0 1790.6V1808.2 M1135.8 1790.6V1800.2 M1177.6 1790.6V1800.2 M191.8 1721.9H184.2 M191.8 1678.9H184.2 M191.8 1648.5H184.2 M191.8 1624.8H184.2 M191.8 1605.5H184.2 M191.8 1589.2H184.2 M191.8 1575.0H184.2 M191.8 1562.6H184.2 M191.8 1551.4H176.2 M191.8 1478.0H184.2 M191.8 1435.0H184.2 M191.8 1404.6H184.2 M191.8 1380.9H184.2 M191.8 1361.6H184.2 M191.8 1345.3H184.2 M191.8 1331.1H184.2 M191.8 1318.7H184.2 M191.8 1307.5H176.2 M191.8 1234.1H184.2 M191.8 1191.1H184.2 M191.8 1160.7H184.2 M191.8 1137.0H184.2 M191.8 1117.7H184.2 M191.8 1101.4H184.2 M191.8 1087.2H184.2 M191.8 1074.8H184.2 M191.8 1063.6H176.2 M191.8 990.2H184.2" stroke="#000" stroke-width="2.7" fill="none"/>
<text transform="translate(241.63 1849.40) scale(1.0643 1)" font-size="41.5" fill="#111" font-weight="normal" >0</text>
<text x="466.70" y="1849.60" font-size="41.5" fill="#111" font-weight="bold" text-anchor="middle" >2</text>
<text x="675.60" y="1849.60" font-size="41.5" fill="#111" font-weight="bold" text-anchor="middle" >4</text>
<text x="884.50" y="1849.60" font-size="41.5" fill="#111" font-weight="bold" text-anchor="middle" >6</text>
<text x="1093.40" y="1849.60" font-size="41.5" fill="#111" font-weight="bold" text-anchor="middle" >8</text>
<text transform="translate(92.94 1075.00) scale(0.9382 1)" font-size="42" fill="#111" font-weight="bold" >10</text>
<text transform="translate(140.02 1052.50) scale(1.0000 1)" font-size="26" fill="#111" font-weight="bold" >5</text>
<text transform="translate(92.94 1317.20) scale(0.9382 1)" font-size="42" fill="#111" font-weight="bold" >10</text>
<text transform="translate(140.44 1297.70) scale(0.9346 1)" font-size="26" fill="#111" font-weight="bold" >4</text>
<text transform="translate(92.94 1563.20) scale(0.9382 1)" font-size="42" fill="#111" font-weight="bold" >10</text>
<text transform="translate(140.14 1541.20) scale(1.0101 1)" font-size="26" fill="#111" font-weight="bold" >3</text>
<text x="702.00" y="1900.90" font-size="50" fill="#111" font-weight="bold" text-anchor="middle" >Energy (eV)</text>
<text transform="translate(61.8 1413) rotate(-90)" font-size="50" font-weight="bold" fill="#111" text-anchor="middle">Counts</text>
<path d="M870.0 1015.3H965.5" stroke="#b0222e" stroke-width="2.3" fill="none"/>
<text fill="#222" xml:space="preserve"><tspan x="976.31" y="1028.70" font-size="42">SiO</tspan><tspan x="1047.45" y="1044.20" font-size="25">2 </tspan><tspan x="1075.00" y="1028.70" font-size="42">+ </tspan><tspan x="1109.80" y="1028.70" font-size="42">Ag</tspan></text>
<path d="M870.0 1080.0H965.5" stroke="#1f6f36" stroke-width="2.3" fill="none"/>
<text fill="#222" xml:space="preserve"><tspan x="976.31" y="1095.30" font-size="42">SiO</tspan><tspan x="1047.45" y="1110.80" font-size="25">2 </tspan><tspan x="1075.00" y="1095.30" font-size="42">+ </tspan><tspan x="1110.16" y="1095.30" font-size="42">TiO</tspan><tspan x="1178.45" y="1110.80" font-size="25">2</tspan></text>
<path d="M870.0 1146.8H965.5" stroke="#1a1a96" stroke-width="2.3" fill="none"/>
<text fill="#222" xml:space="preserve"><tspan x="975.56" y="1159.60" font-size="42">TiO</tspan><tspan x="1044.75" y="1175.10" font-size="25">2 </tspan><tspan x="1070.40" y="1159.60" font-size="42">+ </tspan><tspan x="1109.80" y="1159.60" font-size="42">Ag</tspan></text>
<path d="M868.0 1209.5H967.5" stroke="#000000" stroke-width="5.6" fill="none"/>
<text fill="#222" xml:space="preserve"><tspan x="975.47" y="1223.70" font-size="42">polymer foil</tspan></text>
</g>
</svg>
</body></html>
